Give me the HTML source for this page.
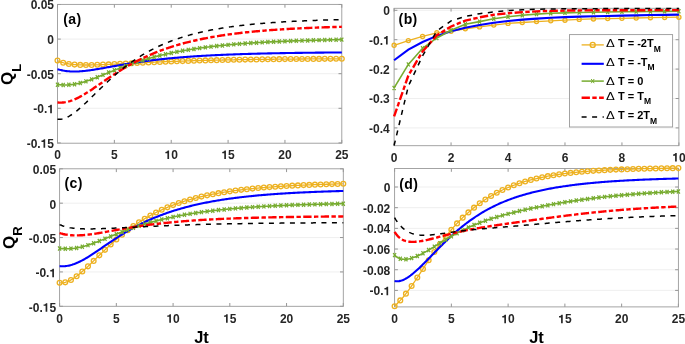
<!DOCTYPE html>
<html><head><meta charset="utf-8"><style>
html,body{margin:0;padding:0;background:#fff;}
svg{display:block;will-change:transform;filter:blur(0.3px);}
text{font-family:"Liberation Sans",sans-serif;font-weight:bold;}
.tl{font-size:12px;fill:#262626;}
.pl{font-size:14px;fill:#000;letter-spacing:0.4px;}
.al{font-size:17px;fill:#000;}
.xl{font-size:16.5px;fill:#000;}
.lg{font-size:11px;fill:#000;}
</style></head><body>
<svg width="685" height="344" viewBox="0 0 685 344">
<rect width="685" height="344" fill="#fff"/>
<rect x="57.5" y="4.4" width="284.3" height="138.79999999999998" fill="#fff"/>
<path d="M57.5,39.10H341.8M57.5,73.70H341.8M57.5,108.30H341.8" stroke="#ebebeb" stroke-width="0.8" fill="none"/>
<path d="M57.5,4.50h3.3M341.8,4.50h-3.3M57.5,39.10h3.3M341.8,39.10h-3.3M57.5,73.70h3.3M341.8,73.70h-3.3M57.5,108.30h3.3M341.8,108.30h-3.3M57.5,142.90h3.3M341.8,142.90h-3.3M57.50,143.2v-3.3M57.50,4.4v3.3M114.36,143.2v-3.3M114.36,4.4v3.3M171.22,143.2v-3.3M171.22,4.4v3.3M228.08,143.2v-3.3M228.08,4.4v3.3M284.94,143.2v-3.3M284.94,4.4v3.3M341.80,143.2v-3.3M341.80,4.4v3.3" stroke="#8a8a8a" stroke-width="0.9" fill="none"/>
<rect x="57.5" y="4.4" width="284.3" height="138.79999999999998" fill="none" stroke="#9a9a9a" stroke-width="0.9"/>
<text x="30.64" y="9.40" class="tl">0.05</text>
<text x="47.33" y="44.00" class="tl">0</text>
<text x="26.65" y="78.60" class="tl">-0.05</text>
<text x="33.32" y="113.20" class="tl">-0.</text><path d="M238,0L378,0L378,710L268,710C254,652 214,612 150,604L69,600L69,493L238,493Z" transform="translate(47.33,113.20) scale(0.0120,-0.0120)" fill="#262626"/>
<text x="26.65" y="147.80" class="tl">-0.</text><path d="M238,0L378,0L378,710L268,710C254,652 214,612 150,604L69,600L69,493L238,493Z" transform="translate(40.65,147.80) scale(0.0120,-0.0120)" fill="#262626"/><text x="47.33" y="147.80" class="tl">5</text>
<text x="54.16" y="159.10" class="tl">0</text>
<text x="111.02" y="159.10" class="tl">5</text>
<path d="M238,0L378,0L378,710L268,710C254,652 214,612 150,604L69,600L69,493L238,493Z" transform="translate(164.55,159.10) scale(0.0120,-0.0120)" fill="#262626"/><text x="171.22" y="159.10" class="tl">0</text>
<path d="M238,0L378,0L378,710L268,710C254,652 214,612 150,604L69,600L69,493L238,493Z" transform="translate(221.41,159.10) scale(0.0120,-0.0120)" fill="#262626"/><text x="228.08" y="159.10" class="tl">5</text>
<text x="278.27" y="159.10" class="tl">20</text>
<text x="335.13" y="159.10" class="tl">25</text>
<polyline points="57.50,60.62 58.64,61.14 59.77,61.60 60.91,62.02 62.05,62.40 63.19,62.74 64.32,63.04 65.46,63.31 66.60,63.55 67.73,63.76 68.87,63.95 70.01,64.12 71.15,64.27 72.28,64.40 73.42,64.51 74.56,64.61 75.70,64.70 76.83,64.77 77.97,64.83 79.11,64.88 80.24,64.92 81.38,64.96 82.52,64.98 83.66,65.00 84.79,65.01 85.93,65.01 87.07,65.01 88.20,65.01 89.34,65.00 90.48,64.98 91.62,64.96 92.75,64.94 93.89,64.92 95.03,64.89 96.16,64.86 97.30,64.82 98.44,64.79 99.58,64.75 100.71,64.71 101.85,64.67 102.99,64.62 104.13,64.58 105.26,64.53 106.40,64.48 107.54,64.43 108.67,64.38 109.81,64.33 110.95,64.28 112.09,64.23 113.22,64.18 114.36,64.12 115.50,64.07 116.63,64.01 117.77,63.96 118.91,63.90 120.05,63.85 121.18,63.79 122.32,63.74 123.46,63.68 124.59,63.62 125.73,63.57 126.87,63.51 128.01,63.45 129.14,63.40 130.28,63.34 131.42,63.28 132.56,63.23 133.69,63.17 134.83,63.11 135.97,63.06 137.10,63.00 138.24,62.95 139.38,62.89 140.52,62.84 141.65,62.78 142.79,62.73 143.93,62.67 145.06,62.62 146.20,62.57 147.34,62.51 148.48,62.46 149.61,62.41 150.75,62.35 151.89,62.30 153.02,62.25 154.16,62.20 155.30,62.15 156.44,62.10 157.57,62.05 158.71,62.00 159.85,61.95 160.99,61.91 162.12,61.86 163.26,61.81 164.40,61.76 165.53,61.72 166.67,61.67 167.81,61.63 168.95,61.58 170.08,61.54 171.22,61.49 172.36,61.45 173.49,61.41 174.63,61.37 175.77,61.32 176.91,61.28 178.04,61.24 179.18,61.20 180.32,61.16 181.45,61.12 182.59,61.08 183.73,61.04 184.87,61.01 186.00,60.97 187.14,60.93 188.28,60.90 189.42,60.86 190.55,60.82 191.69,60.79 192.83,60.75 193.96,60.72 195.10,60.69 196.24,60.65 197.38,60.62 198.51,60.59 199.65,60.56 200.79,60.52 201.92,60.49 203.06,60.46 204.20,60.43 205.34,60.40 206.47,60.37 207.61,60.34 208.75,60.32 209.88,60.29 211.02,60.26 212.16,60.23 213.30,60.21 214.43,60.18 215.57,60.15 216.71,60.13 217.85,60.10 218.98,60.08 220.12,60.05 221.26,60.03 222.39,60.00 223.53,59.98 224.67,59.96 225.81,59.93 226.94,59.91 228.08,59.89 229.22,59.87 230.35,59.85 231.49,59.82 232.63,59.80 233.77,59.78 234.90,59.76 236.04,59.74 237.18,59.72 238.31,59.70 239.45,59.68 240.59,59.67 241.73,59.65 242.86,59.63 244.00,59.61 245.14,59.59 246.28,59.58 247.41,59.56 248.55,59.54 249.69,59.53 250.82,59.51 251.96,59.49 253.10,59.48 254.24,59.46 255.37,59.45 256.51,59.43 257.65,59.42 258.78,59.40 259.92,59.39 261.06,59.37 262.20,59.36 263.33,59.35 264.47,59.33 265.61,59.32 266.74,59.31 267.88,59.29 269.02,59.28 270.16,59.27 271.29,59.26 272.43,59.24 273.57,59.23 274.71,59.22 275.84,59.21 276.98,59.20 278.12,59.19 279.25,59.17 280.39,59.16 281.53,59.15 282.67,59.14 283.80,59.13 284.94,59.12 286.08,59.11 287.21,59.10 288.35,59.09 289.49,59.08 290.63,59.07 291.76,59.07 292.90,59.06 294.04,59.05 295.17,59.04 296.31,59.03 297.45,59.02 298.59,59.01 299.72,59.01 300.86,59.00 302.00,58.99 303.14,58.98 304.27,58.97 305.41,58.97 306.55,58.96 307.68,58.95 308.82,58.94 309.96,58.94 311.10,58.93 312.23,58.92 313.37,58.92 314.51,58.91 315.64,58.90 316.78,58.90 317.92,58.89 319.06,58.89 320.19,58.88 321.33,58.87 322.47,58.87 323.60,58.86 324.74,58.86 325.88,58.85 327.02,58.84 328.15,58.84 329.29,58.83 330.43,58.83 331.57,58.82 332.70,58.82 333.84,58.81 334.98,58.81 336.11,58.80 337.25,58.80 338.39,58.79 339.53,58.79 340.66,58.79 341.80,58.78" fill="none" stroke="#EDB120" stroke-width="1.3"/>
<circle cx="57.50" cy="60.62" r="2.4" fill="none" stroke="#EDB120" stroke-width="1.3"/><circle cx="63.19" cy="62.74" r="2.4" fill="none" stroke="#EDB120" stroke-width="1.3"/><circle cx="68.87" cy="63.95" r="2.4" fill="none" stroke="#EDB120" stroke-width="1.3"/><circle cx="74.56" cy="64.61" r="2.4" fill="none" stroke="#EDB120" stroke-width="1.3"/><circle cx="80.24" cy="64.92" r="2.4" fill="none" stroke="#EDB120" stroke-width="1.3"/><circle cx="85.93" cy="65.01" r="2.4" fill="none" stroke="#EDB120" stroke-width="1.3"/><circle cx="91.62" cy="64.96" r="2.4" fill="none" stroke="#EDB120" stroke-width="1.3"/><circle cx="97.30" cy="64.82" r="2.4" fill="none" stroke="#EDB120" stroke-width="1.3"/><circle cx="102.99" cy="64.62" r="2.4" fill="none" stroke="#EDB120" stroke-width="1.3"/><circle cx="108.67" cy="64.38" r="2.4" fill="none" stroke="#EDB120" stroke-width="1.3"/><circle cx="114.36" cy="64.12" r="2.4" fill="none" stroke="#EDB120" stroke-width="1.3"/><circle cx="120.05" cy="63.85" r="2.4" fill="none" stroke="#EDB120" stroke-width="1.3"/><circle cx="125.73" cy="63.57" r="2.4" fill="none" stroke="#EDB120" stroke-width="1.3"/><circle cx="131.42" cy="63.28" r="2.4" fill="none" stroke="#EDB120" stroke-width="1.3"/><circle cx="137.10" cy="63.00" r="2.4" fill="none" stroke="#EDB120" stroke-width="1.3"/><circle cx="142.79" cy="62.73" r="2.4" fill="none" stroke="#EDB120" stroke-width="1.3"/><circle cx="148.48" cy="62.46" r="2.4" fill="none" stroke="#EDB120" stroke-width="1.3"/><circle cx="154.16" cy="62.20" r="2.4" fill="none" stroke="#EDB120" stroke-width="1.3"/><circle cx="159.85" cy="61.95" r="2.4" fill="none" stroke="#EDB120" stroke-width="1.3"/><circle cx="165.53" cy="61.72" r="2.4" fill="none" stroke="#EDB120" stroke-width="1.3"/><circle cx="171.22" cy="61.49" r="2.4" fill="none" stroke="#EDB120" stroke-width="1.3"/><circle cx="176.91" cy="61.28" r="2.4" fill="none" stroke="#EDB120" stroke-width="1.3"/><circle cx="182.59" cy="61.08" r="2.4" fill="none" stroke="#EDB120" stroke-width="1.3"/><circle cx="188.28" cy="60.90" r="2.4" fill="none" stroke="#EDB120" stroke-width="1.3"/><circle cx="193.96" cy="60.72" r="2.4" fill="none" stroke="#EDB120" stroke-width="1.3"/><circle cx="199.65" cy="60.56" r="2.4" fill="none" stroke="#EDB120" stroke-width="1.3"/><circle cx="205.34" cy="60.40" r="2.4" fill="none" stroke="#EDB120" stroke-width="1.3"/><circle cx="211.02" cy="60.26" r="2.4" fill="none" stroke="#EDB120" stroke-width="1.3"/><circle cx="216.71" cy="60.13" r="2.4" fill="none" stroke="#EDB120" stroke-width="1.3"/><circle cx="222.39" cy="60.00" r="2.4" fill="none" stroke="#EDB120" stroke-width="1.3"/><circle cx="228.08" cy="59.89" r="2.4" fill="none" stroke="#EDB120" stroke-width="1.3"/><circle cx="233.77" cy="59.78" r="2.4" fill="none" stroke="#EDB120" stroke-width="1.3"/><circle cx="239.45" cy="59.68" r="2.4" fill="none" stroke="#EDB120" stroke-width="1.3"/><circle cx="245.14" cy="59.59" r="2.4" fill="none" stroke="#EDB120" stroke-width="1.3"/><circle cx="250.82" cy="59.51" r="2.4" fill="none" stroke="#EDB120" stroke-width="1.3"/><circle cx="256.51" cy="59.43" r="2.4" fill="none" stroke="#EDB120" stroke-width="1.3"/><circle cx="262.20" cy="59.36" r="2.4" fill="none" stroke="#EDB120" stroke-width="1.3"/><circle cx="267.88" cy="59.29" r="2.4" fill="none" stroke="#EDB120" stroke-width="1.3"/><circle cx="273.57" cy="59.23" r="2.4" fill="none" stroke="#EDB120" stroke-width="1.3"/><circle cx="279.25" cy="59.17" r="2.4" fill="none" stroke="#EDB120" stroke-width="1.3"/><circle cx="284.94" cy="59.12" r="2.4" fill="none" stroke="#EDB120" stroke-width="1.3"/><circle cx="290.63" cy="59.07" r="2.4" fill="none" stroke="#EDB120" stroke-width="1.3"/><circle cx="296.31" cy="59.03" r="2.4" fill="none" stroke="#EDB120" stroke-width="1.3"/><circle cx="302.00" cy="58.99" r="2.4" fill="none" stroke="#EDB120" stroke-width="1.3"/><circle cx="307.68" cy="58.95" r="2.4" fill="none" stroke="#EDB120" stroke-width="1.3"/><circle cx="313.37" cy="58.92" r="2.4" fill="none" stroke="#EDB120" stroke-width="1.3"/><circle cx="319.06" cy="58.89" r="2.4" fill="none" stroke="#EDB120" stroke-width="1.3"/><circle cx="324.74" cy="58.86" r="2.4" fill="none" stroke="#EDB120" stroke-width="1.3"/><circle cx="330.43" cy="58.83" r="2.4" fill="none" stroke="#EDB120" stroke-width="1.3"/><circle cx="336.11" cy="58.80" r="2.4" fill="none" stroke="#EDB120" stroke-width="1.3"/><circle cx="341.80" cy="58.78" r="2.4" fill="none" stroke="#EDB120" stroke-width="1.3"/>
<polyline points="57.50,69.20 58.64,69.53 59.77,69.83 60.91,70.10 62.05,70.35 63.19,70.58 64.32,70.77 65.46,70.95 66.60,71.09 67.73,71.22 68.87,71.32 70.01,71.41 71.15,71.47 72.28,71.51 73.42,71.53 74.56,71.54 75.70,71.52 76.83,71.50 77.97,71.45 79.11,71.40 80.24,71.32 81.38,71.24 82.52,71.14 83.66,71.04 84.79,70.92 85.93,70.79 87.07,70.66 88.20,70.52 89.34,70.36 90.48,70.21 91.62,70.04 92.75,69.87 93.89,69.70 95.03,69.52 96.16,69.33 97.30,69.14 98.44,68.95 99.58,68.76 100.71,68.56 101.85,68.36 102.99,68.16 104.13,67.96 105.26,67.75 106.40,67.55 107.54,67.34 108.67,67.14 109.81,66.93 110.95,66.72 112.09,66.52 113.22,66.31 114.36,66.11 115.50,65.90 116.63,65.70 117.77,65.50 118.91,65.30 120.05,65.10 121.18,64.90 122.32,64.70 123.46,64.51 124.59,64.32 125.73,64.12 126.87,63.93 128.01,63.75 129.14,63.56 130.28,63.38 131.42,63.20 132.56,63.02 133.69,62.84 134.83,62.66 135.97,62.49 137.10,62.32 138.24,62.15 139.38,61.98 140.52,61.82 141.65,61.66 142.79,61.50 143.93,61.34 145.06,61.19 146.20,61.03 147.34,60.88 148.48,60.73 149.61,60.59 150.75,60.44 151.89,60.30 153.02,60.16 154.16,60.02 155.30,59.89 156.44,59.75 157.57,59.62 158.71,59.49 159.85,59.37 160.99,59.24 162.12,59.12 163.26,59.00 164.40,58.88 165.53,58.76 166.67,58.64 167.81,58.53 168.95,58.42 170.08,58.31 171.22,58.20 172.36,58.09 173.49,57.99 174.63,57.89 175.77,57.79 176.91,57.69 178.04,57.59 179.18,57.49 180.32,57.40 181.45,57.31 182.59,57.22 183.73,57.13 184.87,57.04 186.00,56.95 187.14,56.87 188.28,56.78 189.42,56.70 190.55,56.62 191.69,56.54 192.83,56.46 193.96,56.38 195.10,56.31 196.24,56.23 197.38,56.16 198.51,56.09 199.65,56.02 200.79,55.95 201.92,55.88 203.06,55.82 204.20,55.75 205.34,55.68 206.47,55.62 207.61,55.56 208.75,55.50 209.88,55.44 211.02,55.38 212.16,55.32 213.30,55.26 214.43,55.21 215.57,55.15 216.71,55.10 217.85,55.04 218.98,54.99 220.12,54.94 221.26,54.89 222.39,54.84 223.53,54.79 224.67,54.74 225.81,54.69 226.94,54.65 228.08,54.60 229.22,54.56 230.35,54.51 231.49,54.47 232.63,54.43 233.77,54.38 234.90,54.34 236.04,54.30 237.18,54.26 238.31,54.22 239.45,54.19 240.59,54.15 241.73,54.11 242.86,54.07 244.00,54.04 245.14,54.00 246.28,53.97 247.41,53.93 248.55,53.90 249.69,53.87 250.82,53.83 251.96,53.80 253.10,53.77 254.24,53.74 255.37,53.71 256.51,53.68 257.65,53.65 258.78,53.62 259.92,53.59 261.06,53.57 262.20,53.54 263.33,53.51 264.47,53.49 265.61,53.46 266.74,53.44 267.88,53.41 269.02,53.39 270.16,53.36 271.29,53.34 272.43,53.31 273.57,53.29 274.71,53.27 275.84,53.25 276.98,53.22 278.12,53.20 279.25,53.18 280.39,53.16 281.53,53.14 282.67,53.12 283.80,53.10 284.94,53.08 286.08,53.06 287.21,53.04 288.35,53.02 289.49,53.01 290.63,52.99 291.76,52.97 292.90,52.95 294.04,52.94 295.17,52.92 296.31,52.90 297.45,52.89 298.59,52.87 299.72,52.86 300.86,52.84 302.00,52.83 303.14,52.81 304.27,52.80 305.41,52.78 306.55,52.77 307.68,52.75 308.82,52.74 309.96,52.73 311.10,52.71 312.23,52.70 313.37,52.69 314.51,52.68 315.64,52.66 316.78,52.65 317.92,52.64 319.06,52.63 320.19,52.62 321.33,52.61 322.47,52.59 323.60,52.58 324.74,52.57 325.88,52.56 327.02,52.55 328.15,52.54 329.29,52.53 330.43,52.52 331.57,52.51 332.70,52.50 333.84,52.49 334.98,52.48 336.11,52.48 337.25,52.47 338.39,52.46 339.53,52.45 340.66,52.44 341.80,52.43" fill="none" stroke="#0000FF" stroke-width="2.1"/>
<polyline points="57.50,84.70 58.64,84.76 59.77,84.81 60.91,84.87 62.05,84.91 63.19,84.94 64.32,84.96 65.46,84.96 66.60,84.94 67.73,84.90 68.87,84.83 70.01,84.75 71.15,84.64 72.28,84.51 73.42,84.35 74.56,84.18 75.70,83.98 76.83,83.76 77.97,83.52 79.11,83.26 80.24,82.98 81.38,82.68 82.52,82.37 83.66,82.04 84.79,81.69 85.93,81.34 87.07,80.96 88.20,80.58 89.34,80.19 90.48,79.78 91.62,79.37 92.75,78.95 93.89,78.52 95.03,78.08 96.16,77.64 97.30,77.19 98.44,76.74 99.58,76.28 100.71,75.82 101.85,75.36 102.99,74.90 104.13,74.44 105.26,73.97 106.40,73.51 107.54,73.04 108.67,72.58 109.81,72.12 110.95,71.66 112.09,71.20 113.22,70.74 114.36,70.28 115.50,69.83 116.63,69.38 117.77,68.94 118.91,68.49 120.05,68.05 121.18,67.62 122.32,67.19 123.46,66.76 124.59,66.34 125.73,65.92 126.87,65.50 128.01,65.09 129.14,64.69 130.28,64.29 131.42,63.89 132.56,63.50 133.69,63.11 134.83,62.73 135.97,62.36 137.10,61.98 138.24,61.62 139.38,61.26 140.52,60.90 141.65,60.55 142.79,60.20 143.93,59.86 145.06,59.52 146.20,59.19 147.34,58.86 148.48,58.54 149.61,58.22 150.75,57.90 151.89,57.59 153.02,57.29 154.16,56.99 155.30,56.69 156.44,56.40 157.57,56.11 158.71,55.83 159.85,55.55 160.99,55.28 162.12,55.01 163.26,54.75 164.40,54.48 165.53,54.23 166.67,53.97 167.81,53.72 168.95,53.48 170.08,53.24 171.22,53.00 172.36,52.76 173.49,52.53 174.63,52.31 175.77,52.08 176.91,51.86 178.04,51.65 179.18,51.43 180.32,51.22 181.45,51.02 182.59,50.81 183.73,50.61 184.87,50.42 186.00,50.22 187.14,50.03 188.28,49.85 189.42,49.66 190.55,49.48 191.69,49.30 192.83,49.13 193.96,48.95 195.10,48.78 196.24,48.61 197.38,48.45 198.51,48.29 199.65,48.13 200.79,47.97 201.92,47.82 203.06,47.66 204.20,47.51 205.34,47.37 206.47,47.22 207.61,47.08 208.75,46.94 209.88,46.80 211.02,46.66 212.16,46.53 213.30,46.40 214.43,46.27 215.57,46.14 216.71,46.02 217.85,45.89 218.98,45.77 220.12,45.65 221.26,45.53 222.39,45.42 223.53,45.30 224.67,45.19 225.81,45.08 226.94,44.97 228.08,44.87 229.22,44.76 230.35,44.66 231.49,44.56 232.63,44.46 233.77,44.36 234.90,44.26 236.04,44.17 237.18,44.07 238.31,43.98 239.45,43.89 240.59,43.80 241.73,43.71 242.86,43.62 244.00,43.54 245.14,43.46 246.28,43.37 247.41,43.29 248.55,43.21 249.69,43.13 250.82,43.06 251.96,42.98 253.10,42.91 254.24,42.83 255.37,42.76 256.51,42.69 257.65,42.62 258.78,42.55 259.92,42.48 261.06,42.41 262.20,42.35 263.33,42.28 264.47,42.22 265.61,42.16 266.74,42.10 267.88,42.04 269.02,41.98 270.16,41.92 271.29,41.86 272.43,41.80 273.57,41.75 274.71,41.69 275.84,41.64 276.98,41.59 278.12,41.53 279.25,41.48 280.39,41.43 281.53,41.38 282.67,41.33 283.80,41.28 284.94,41.24 286.08,41.19 287.21,41.14 288.35,41.10 289.49,41.05 290.63,41.01 291.76,40.97 292.90,40.92 294.04,40.88 295.17,40.84 296.31,40.80 297.45,40.76 298.59,40.72 299.72,40.68 300.86,40.65 302.00,40.61 303.14,40.57 304.27,40.54 305.41,40.50 306.55,40.47 307.68,40.43 308.82,40.40 309.96,40.37 311.10,40.33 312.23,40.30 313.37,40.27 314.51,40.24 315.64,40.21 316.78,40.18 317.92,40.15 319.06,40.12 320.19,40.09 321.33,40.06 322.47,40.04 323.60,40.01 324.74,39.98 325.88,39.96 327.02,39.93 328.15,39.90 329.29,39.88 330.43,39.85 331.57,39.83 332.70,39.81 333.84,39.78 334.98,39.76 336.11,39.74 337.25,39.71 338.39,39.69 339.53,39.67 340.66,39.65 341.80,39.63" fill="none" stroke="#77AC30" stroke-width="1.6"/>
<path d="M56.00,82.60l3,4.2M56.00,86.80l3,-4.2M61.69,82.84l3,4.2M61.69,87.04l3,-4.2M67.37,82.73l3,4.2M67.37,86.93l3,-4.2M73.06,82.08l3,4.2M73.06,86.28l3,-4.2M78.74,80.88l3,4.2M78.74,85.08l3,-4.2M84.43,79.24l3,4.2M84.43,83.44l3,-4.2M90.12,77.27l3,4.2M90.12,81.47l3,-4.2M95.80,75.09l3,4.2M95.80,79.29l3,-4.2M101.49,72.80l3,4.2M101.49,77.00l3,-4.2M107.17,70.48l3,4.2M107.17,74.68l3,-4.2M112.86,68.18l3,4.2M112.86,72.38l3,-4.2M118.55,65.95l3,4.2M118.55,70.15l3,-4.2M124.23,63.82l3,4.2M124.23,68.02l3,-4.2M129.92,61.79l3,4.2M129.92,65.99l3,-4.2M135.60,59.88l3,4.2M135.60,64.08l3,-4.2M141.29,58.10l3,4.2M141.29,62.30l3,-4.2M146.98,56.44l3,4.2M146.98,60.64l3,-4.2M152.66,54.89l3,4.2M152.66,59.09l3,-4.2M158.35,53.45l3,4.2M158.35,57.65l3,-4.2M164.03,52.13l3,4.2M164.03,56.33l3,-4.2M169.72,50.90l3,4.2M169.72,55.10l3,-4.2M175.41,49.76l3,4.2M175.41,53.96l3,-4.2M181.09,48.71l3,4.2M181.09,52.91l3,-4.2M186.78,47.75l3,4.2M186.78,51.95l3,-4.2M192.46,46.85l3,4.2M192.46,51.05l3,-4.2M198.15,46.03l3,4.2M198.15,50.23l3,-4.2M203.84,45.27l3,4.2M203.84,49.47l3,-4.2M209.52,44.56l3,4.2M209.52,48.76l3,-4.2M215.21,43.92l3,4.2M215.21,48.12l3,-4.2M220.89,43.32l3,4.2M220.89,47.52l3,-4.2M226.58,42.77l3,4.2M226.58,46.97l3,-4.2M232.27,42.26l3,4.2M232.27,46.46l3,-4.2M237.95,41.79l3,4.2M237.95,45.99l3,-4.2M243.64,41.36l3,4.2M243.64,45.56l3,-4.2M249.32,40.96l3,4.2M249.32,45.16l3,-4.2M255.01,40.59l3,4.2M255.01,44.79l3,-4.2M260.70,40.25l3,4.2M260.70,44.45l3,-4.2M266.38,39.94l3,4.2M266.38,44.14l3,-4.2M272.07,39.65l3,4.2M272.07,43.85l3,-4.2M277.75,39.38l3,4.2M277.75,43.58l3,-4.2M283.44,39.14l3,4.2M283.44,43.34l3,-4.2M289.13,38.91l3,4.2M289.13,43.11l3,-4.2M294.81,38.70l3,4.2M294.81,42.90l3,-4.2M300.50,38.51l3,4.2M300.50,42.71l3,-4.2M306.18,38.33l3,4.2M306.18,42.53l3,-4.2M311.87,38.17l3,4.2M311.87,42.37l3,-4.2M317.56,38.02l3,4.2M317.56,42.22l3,-4.2M323.24,37.88l3,4.2M323.24,42.08l3,-4.2M328.93,37.75l3,4.2M328.93,41.95l3,-4.2M334.61,37.64l3,4.2M334.61,41.84l3,-4.2M340.30,37.53l3,4.2M340.30,41.73l3,-4.2" stroke="#77AC30" stroke-width="1.25" fill="none"/>
<polyline points="57.50,102.49 58.64,102.56 59.77,102.59 60.91,102.59 62.05,102.54 63.19,102.46 64.32,102.33 65.46,102.15 66.60,101.94 67.73,101.69 68.87,101.40 70.01,101.07 71.15,100.70 72.28,100.30 73.42,99.86 74.56,99.39 75.70,98.89 76.83,98.36 77.97,97.81 79.11,97.23 80.24,96.63 81.38,96.00 82.52,95.35 83.66,94.69 84.79,94.01 85.93,93.31 87.07,92.60 88.20,91.88 89.34,91.14 90.48,90.40 91.62,89.64 92.75,88.88 93.89,88.12 95.03,87.34 96.16,86.57 97.30,85.79 98.44,85.01 99.58,84.22 100.71,83.44 101.85,82.66 102.99,81.88 104.13,81.10 105.26,80.32 106.40,79.54 107.54,78.77 108.67,78.00 109.81,77.24 110.95,76.48 112.09,75.73 113.22,74.98 114.36,74.24 115.50,73.50 116.63,72.77 117.77,72.05 118.91,71.34 120.05,70.63 121.18,69.93 122.32,69.24 123.46,68.55 124.59,67.88 125.73,67.21 126.87,66.55 128.01,65.89 129.14,65.25 130.28,64.61 131.42,63.98 132.56,63.36 133.69,62.75 134.83,62.15 135.97,61.55 137.10,60.97 138.24,60.39 139.38,59.82 140.52,59.26 141.65,58.70 142.79,58.16 143.93,57.62 145.06,57.09 146.20,56.57 147.34,56.05 148.48,55.55 149.61,55.05 150.75,54.56 151.89,54.07 153.02,53.60 154.16,53.13 155.30,52.67 156.44,52.22 157.57,51.77 158.71,51.33 159.85,50.90 160.99,50.47 162.12,50.05 163.26,49.64 164.40,49.23 165.53,48.84 166.67,48.44 167.81,48.06 168.95,47.68 170.08,47.30 171.22,46.94 172.36,46.57 173.49,46.22 174.63,45.87 175.77,45.52 176.91,45.18 178.04,44.85 179.18,44.52 180.32,44.20 181.45,43.88 182.59,43.57 183.73,43.27 184.87,42.96 186.00,42.67 187.14,42.38 188.28,42.09 189.42,41.81 190.55,41.53 191.69,41.26 192.83,40.99 193.96,40.72 195.10,40.46 196.24,40.21 197.38,39.96 198.51,39.71 199.65,39.47 200.79,39.23 201.92,38.99 203.06,38.76 204.20,38.53 205.34,38.31 206.47,38.09 207.61,37.87 208.75,37.66 209.88,37.45 211.02,37.25 212.16,37.05 213.30,36.85 214.43,36.65 215.57,36.46 216.71,36.27 217.85,36.08 218.98,35.90 220.12,35.72 221.26,35.54 222.39,35.37 223.53,35.20 224.67,35.03 225.81,34.86 226.94,34.70 228.08,34.54 229.22,34.38 230.35,34.23 231.49,34.08 232.63,33.93 233.77,33.78 234.90,33.63 236.04,33.49 237.18,33.35 238.31,33.21 239.45,33.08 240.59,32.95 241.73,32.81 242.86,32.69 244.00,32.56 245.14,32.43 246.28,32.31 247.41,32.19 248.55,32.07 249.69,31.96 250.82,31.84 251.96,31.73 253.10,31.62 254.24,31.51 255.37,31.40 256.51,31.30 257.65,31.19 258.78,31.09 259.92,30.99 261.06,30.89 262.20,30.79 263.33,30.70 264.47,30.60 265.61,30.51 266.74,30.42 267.88,30.33 269.02,30.24 270.16,30.16 271.29,30.07 272.43,29.99 273.57,29.91 274.71,29.83 275.84,29.75 276.98,29.67 278.12,29.59 279.25,29.52 280.39,29.44 281.53,29.37 282.67,29.30 283.80,29.22 284.94,29.16 286.08,29.09 287.21,29.02 288.35,28.95 289.49,28.89 290.63,28.82 291.76,28.76 292.90,28.70 294.04,28.64 295.17,28.58 296.31,28.52 297.45,28.46 298.59,28.40 299.72,28.35 300.86,28.29 302.00,28.24 303.14,28.19 304.27,28.13 305.41,28.08 306.55,28.03 307.68,27.98 308.82,27.93 309.96,27.88 311.10,27.84 312.23,27.79 313.37,27.74 314.51,27.70 315.64,27.65 316.78,27.61 317.92,27.57 319.06,27.52 320.19,27.48 321.33,27.44 322.47,27.40 323.60,27.36 324.74,27.32 325.88,27.29 327.02,27.25 328.15,27.21 329.29,27.17 330.43,27.14 331.57,27.10 332.70,27.07 333.84,27.03 334.98,27.00 336.11,26.97 337.25,26.94 338.39,26.90 339.53,26.87 340.66,26.84 341.80,26.81" fill="none" stroke="#FF0000" stroke-width="2.4" stroke-dasharray="8.3,2.4,4.4,2.4"/>
<polyline points="57.50,119.30 58.64,119.37 59.77,119.36 60.91,119.25 62.05,119.06 63.19,118.78 64.32,118.43 65.46,118.01 66.60,117.53 67.73,116.98 68.87,116.37 70.01,115.71 71.15,115.00 72.28,114.25 73.42,113.45 74.56,112.61 75.70,111.74 76.83,110.83 77.97,109.89 79.11,108.93 80.24,107.94 81.38,106.92 82.52,105.89 83.66,104.84 84.79,103.78 85.93,102.70 87.07,101.62 88.20,100.52 89.34,99.42 90.48,98.30 91.62,97.19 92.75,96.07 93.89,94.95 95.03,93.83 96.16,92.71 97.30,91.60 98.44,90.48 99.58,89.37 100.71,88.27 101.85,87.17 102.99,86.08 104.13,84.99 105.26,83.91 106.40,82.84 107.54,81.78 108.67,80.73 109.81,79.69 110.95,78.66 112.09,77.64 113.22,76.63 114.36,75.63 115.50,74.65 116.63,73.67 117.77,72.71 118.91,71.76 120.05,70.82 121.18,69.90 122.32,68.98 123.46,68.08 124.59,67.20 125.73,66.32 126.87,65.46 128.01,64.61 129.14,63.78 130.28,62.95 131.42,62.14 132.56,61.34 133.69,60.56 134.83,59.79 135.97,59.03 137.10,58.28 138.24,57.55 139.38,56.82 140.52,56.11 141.65,55.42 142.79,54.73 143.93,54.06 145.06,53.39 146.20,52.74 147.34,52.10 148.48,51.47 149.61,50.86 150.75,50.25 151.89,49.65 153.02,49.07 154.16,48.50 155.30,47.93 156.44,47.38 157.57,46.83 158.71,46.30 159.85,45.78 160.99,45.26 162.12,44.76 163.26,44.26 164.40,43.78 165.53,43.30 166.67,42.83 167.81,42.37 168.95,41.92 170.08,41.48 171.22,41.05 172.36,40.62 173.49,40.20 174.63,39.79 175.77,39.39 176.91,39.00 178.04,38.61 179.18,38.23 180.32,37.86 181.45,37.49 182.59,37.13 183.73,36.78 184.87,36.44 186.00,36.10 187.14,35.77 188.28,35.44 189.42,35.12 190.55,34.81 191.69,34.50 192.83,34.20 193.96,33.90 195.10,33.61 196.24,33.33 197.38,33.05 198.51,32.77 199.65,32.50 200.79,32.24 201.92,31.98 203.06,31.73 204.20,31.48 205.34,31.23 206.47,30.99 207.61,30.76 208.75,30.53 209.88,30.30 211.02,30.08 212.16,29.86 213.30,29.65 214.43,29.44 215.57,29.23 216.71,29.03 217.85,28.83 218.98,28.64 220.12,28.45 221.26,28.26 222.39,28.08 223.53,27.89 224.67,27.72 225.81,27.54 226.94,27.37 228.08,27.21 229.22,27.04 230.35,26.88 231.49,26.72 232.63,26.57 233.77,26.42 234.90,26.27 236.04,26.12 237.18,25.98 238.31,25.83 239.45,25.70 240.59,25.56 241.73,25.43 242.86,25.29 244.00,25.17 245.14,25.04 246.28,24.91 247.41,24.79 248.55,24.67 249.69,24.56 250.82,24.44 251.96,24.33 253.10,24.22 254.24,24.11 255.37,24.00 256.51,23.90 257.65,23.79 258.78,23.69 259.92,23.59 261.06,23.49 262.20,23.40 263.33,23.30 264.47,23.21 265.61,23.12 266.74,23.03 267.88,22.94 269.02,22.86 270.16,22.77 271.29,22.69 272.43,22.61 273.57,22.53 274.71,22.45 275.84,22.37 276.98,22.30 278.12,22.22 279.25,22.15 280.39,22.08 281.53,22.01 282.67,21.94 283.80,21.87 284.94,21.80 286.08,21.74 287.21,21.67 288.35,21.61 289.49,21.55 290.63,21.48 291.76,21.42 292.90,21.36 294.04,21.31 295.17,21.25 296.31,21.19 297.45,21.14 298.59,21.08 299.72,21.03 300.86,20.98 302.00,20.93 303.14,20.88 304.27,20.83 305.41,20.78 306.55,20.73 307.68,20.68 308.82,20.64 309.96,20.59 311.10,20.55 312.23,20.51 313.37,20.46 314.51,20.42 315.64,20.38 316.78,20.34 317.92,20.30 319.06,20.26 320.19,20.22 321.33,20.18 322.47,20.14 323.60,20.11 324.74,20.07 325.88,20.04 327.02,20.00 328.15,19.97 329.29,19.93 330.43,19.90 331.57,19.87 332.70,19.84 333.84,19.80 334.98,19.77 336.11,19.74 337.25,19.71 338.39,19.68 339.53,19.65 340.66,19.63 341.80,19.60" fill="none" stroke="#000000" stroke-width="1.5" stroke-dasharray="5,5.5"/>
<rect x="59.6" y="168.8" width="283.7" height="137.5" fill="#fff"/>
<path d="M59.6,203.18H343.3M59.6,237.55H343.3M59.6,271.93H343.3" stroke="#ebebeb" stroke-width="0.8" fill="none"/>
<path d="M59.6,168.80h3.3M343.3,168.80h-3.3M59.6,203.18h3.3M343.3,203.18h-3.3M59.6,237.55h3.3M343.3,237.55h-3.3M59.6,271.93h3.3M343.3,271.93h-3.3M59.6,306.30h3.3M343.3,306.30h-3.3M59.60,306.3v-3.3M59.60,168.8v3.3M116.34,306.3v-3.3M116.34,168.8v3.3M173.08,306.3v-3.3M173.08,168.8v3.3M229.82,306.3v-3.3M229.82,168.8v3.3M286.56,306.3v-3.3M286.56,168.8v3.3M343.30,306.3v-3.3M343.30,168.8v3.3" stroke="#8a8a8a" stroke-width="0.9" fill="none"/>
<rect x="59.6" y="168.8" width="283.7" height="137.5" fill="none" stroke="#9a9a9a" stroke-width="0.9"/>
<text x="32.74" y="174.20" class="tl">0.05</text>
<text x="49.43" y="208.58" class="tl">0</text>
<text x="28.75" y="242.95" class="tl">-0.05</text>
<text x="35.42" y="277.32" class="tl">-0.</text><path d="M238,0L378,0L378,710L268,710C254,652 214,612 150,604L69,600L69,493L238,493Z" transform="translate(49.43,277.32) scale(0.0120,-0.0120)" fill="#262626"/>
<text x="28.75" y="311.70" class="tl">-0.</text><path d="M238,0L378,0L378,710L268,710C254,652 214,612 150,604L69,600L69,493L238,493Z" transform="translate(42.75,311.70) scale(0.0120,-0.0120)" fill="#262626"/><text x="49.43" y="311.70" class="tl">5</text>
<text x="56.26" y="322.70" class="tl">0</text>
<text x="113.00" y="322.70" class="tl">5</text>
<path d="M238,0L378,0L378,710L268,710C254,652 214,612 150,604L69,600L69,493L238,493Z" transform="translate(166.41,322.70) scale(0.0120,-0.0120)" fill="#262626"/><text x="173.08" y="322.70" class="tl">0</text>
<path d="M238,0L378,0L378,710L268,710C254,652 214,612 150,604L69,600L69,493L238,493Z" transform="translate(223.15,322.70) scale(0.0120,-0.0120)" fill="#262626"/><text x="229.82" y="322.70" class="tl">5</text>
<text x="279.89" y="322.70" class="tl">20</text>
<text x="336.63" y="322.70" class="tl">25</text>
<polyline points="59.60,282.85 60.73,282.93 61.87,282.91 63.00,282.80 64.14,282.61 65.27,282.34 66.41,281.99 67.54,281.58 68.68,281.09 69.81,280.55 70.95,279.95 72.08,279.29 73.22,278.59 74.35,277.83 75.49,277.04 76.62,276.21 77.76,275.34 78.89,274.44 80.03,273.51 81.16,272.55 82.30,271.56 83.43,270.56 84.57,269.53 85.70,268.49 86.84,267.44 87.97,266.37 89.10,265.29 90.24,264.20 91.37,263.10 92.51,261.99 93.64,260.89 94.78,259.78 95.91,258.66 97.05,257.55 98.18,256.44 99.32,255.33 100.45,254.22 101.59,253.12 102.72,252.02 103.86,250.93 104.99,249.85 106.13,248.77 107.26,247.70 108.40,246.63 109.53,245.58 110.67,244.54 111.80,243.50 112.94,242.48 114.07,241.46 115.21,240.46 116.34,239.47 117.47,238.49 118.61,237.52 119.74,236.56 120.88,235.62 122.01,234.69 123.15,233.77 124.28,232.86 125.42,231.97 126.55,231.09 127.69,230.22 128.82,229.36 129.96,228.52 131.09,227.69 132.23,226.87 133.36,226.07 134.50,225.28 135.63,224.50 136.77,223.73 137.90,222.97 139.04,222.23 140.17,221.50 141.31,220.78 142.44,220.08 143.58,219.39 144.71,218.70 145.84,218.03 146.98,217.37 148.11,216.73 149.25,216.09 150.38,215.47 151.52,214.85 152.65,214.25 153.79,213.66 154.92,213.08 156.06,212.51 157.19,211.95 158.33,211.40 159.46,210.86 160.60,210.33 161.73,209.81 162.87,209.30 164.00,208.80 165.14,208.31 166.27,207.82 167.41,207.35 168.54,206.88 169.68,206.43 170.81,205.98 171.95,205.54 173.08,205.11 174.21,204.69 175.35,204.27 176.48,203.86 177.62,203.46 178.75,203.07 179.89,202.69 181.02,202.31 182.16,201.94 183.29,201.58 184.43,201.22 185.56,200.87 186.70,200.53 187.83,200.19 188.97,199.86 190.10,199.54 191.24,199.22 192.37,198.91 193.51,198.60 194.64,198.31 195.78,198.01 196.91,197.72 198.05,197.44 199.18,197.16 200.32,196.89 201.45,196.62 202.58,196.36 203.72,196.10 204.85,195.85 205.99,195.60 207.12,195.36 208.26,195.12 209.39,194.89 210.53,194.66 211.66,194.43 212.80,194.21 213.93,194.00 215.07,193.78 216.20,193.58 217.34,193.37 218.47,193.17 219.61,192.97 220.74,192.78 221.88,192.59 223.01,192.40 224.15,192.22 225.28,192.04 226.42,191.87 227.55,191.69 228.69,191.53 229.82,191.36 230.95,191.20 232.09,191.04 233.22,190.88 234.36,190.72 235.49,190.57 236.63,190.42 237.76,190.28 238.90,190.14 240.03,190.00 241.17,189.86 242.30,189.72 243.44,189.59 244.57,189.46 245.71,189.33 246.84,189.21 247.98,189.08 249.11,188.96 250.25,188.84 251.38,188.73 252.52,188.61 253.65,188.50 254.79,188.39 255.92,188.28 257.06,188.17 258.19,188.07 259.32,187.97 260.46,187.87 261.59,187.77 262.73,187.67 263.86,187.57 265.00,187.48 266.13,187.39 267.27,187.30 268.40,187.21 269.54,187.12 270.67,187.04 271.81,186.95 272.94,186.87 274.08,186.79 275.21,186.71 276.35,186.63 277.48,186.56 278.62,186.48 279.75,186.41 280.89,186.33 282.02,186.26 283.16,186.19 284.29,186.12 285.43,186.05 286.56,185.99 287.69,185.92 288.83,185.86 289.96,185.80 291.10,185.73 292.23,185.67 293.37,185.61 294.50,185.55 295.64,185.50 296.77,185.44 297.91,185.39 299.04,185.33 300.18,185.28 301.31,185.22 302.45,185.17 303.58,185.12 304.72,185.07 305.85,185.02 306.99,184.97 308.12,184.93 309.26,184.88 310.39,184.83 311.53,184.79 312.66,184.74 313.80,184.70 314.93,184.66 316.06,184.62 317.20,184.58 318.33,184.53 319.47,184.49 320.60,184.46 321.74,184.42 322.87,184.38 324.01,184.34 325.14,184.31 326.28,184.27 327.41,184.23 328.55,184.20 329.68,184.17 330.82,184.13 331.95,184.10 333.09,184.07 334.22,184.04 335.36,184.00 336.49,183.97 337.63,183.94 338.76,183.91 339.90,183.88 341.03,183.86 342.17,183.83 343.30,183.80" fill="none" stroke="#EDB120" stroke-width="1.3"/>
<circle cx="59.60" cy="282.85" r="2.4" fill="none" stroke="#EDB120" stroke-width="1.3"/><circle cx="65.27" cy="282.34" r="2.4" fill="none" stroke="#EDB120" stroke-width="1.3"/><circle cx="70.95" cy="279.95" r="2.4" fill="none" stroke="#EDB120" stroke-width="1.3"/><circle cx="76.62" cy="276.21" r="2.4" fill="none" stroke="#EDB120" stroke-width="1.3"/><circle cx="82.30" cy="271.56" r="2.4" fill="none" stroke="#EDB120" stroke-width="1.3"/><circle cx="87.97" cy="266.37" r="2.4" fill="none" stroke="#EDB120" stroke-width="1.3"/><circle cx="93.64" cy="260.89" r="2.4" fill="none" stroke="#EDB120" stroke-width="1.3"/><circle cx="99.32" cy="255.33" r="2.4" fill="none" stroke="#EDB120" stroke-width="1.3"/><circle cx="104.99" cy="249.85" r="2.4" fill="none" stroke="#EDB120" stroke-width="1.3"/><circle cx="110.67" cy="244.54" r="2.4" fill="none" stroke="#EDB120" stroke-width="1.3"/><circle cx="116.34" cy="239.47" r="2.4" fill="none" stroke="#EDB120" stroke-width="1.3"/><circle cx="122.01" cy="234.69" r="2.4" fill="none" stroke="#EDB120" stroke-width="1.3"/><circle cx="127.69" cy="230.22" r="2.4" fill="none" stroke="#EDB120" stroke-width="1.3"/><circle cx="133.36" cy="226.07" r="2.4" fill="none" stroke="#EDB120" stroke-width="1.3"/><circle cx="139.04" cy="222.23" r="2.4" fill="none" stroke="#EDB120" stroke-width="1.3"/><circle cx="144.71" cy="218.70" r="2.4" fill="none" stroke="#EDB120" stroke-width="1.3"/><circle cx="150.38" cy="215.47" r="2.4" fill="none" stroke="#EDB120" stroke-width="1.3"/><circle cx="156.06" cy="212.51" r="2.4" fill="none" stroke="#EDB120" stroke-width="1.3"/><circle cx="161.73" cy="209.81" r="2.4" fill="none" stroke="#EDB120" stroke-width="1.3"/><circle cx="167.41" cy="207.35" r="2.4" fill="none" stroke="#EDB120" stroke-width="1.3"/><circle cx="173.08" cy="205.11" r="2.4" fill="none" stroke="#EDB120" stroke-width="1.3"/><circle cx="178.75" cy="203.07" r="2.4" fill="none" stroke="#EDB120" stroke-width="1.3"/><circle cx="184.43" cy="201.22" r="2.4" fill="none" stroke="#EDB120" stroke-width="1.3"/><circle cx="190.10" cy="199.54" r="2.4" fill="none" stroke="#EDB120" stroke-width="1.3"/><circle cx="195.78" cy="198.01" r="2.4" fill="none" stroke="#EDB120" stroke-width="1.3"/><circle cx="201.45" cy="196.62" r="2.4" fill="none" stroke="#EDB120" stroke-width="1.3"/><circle cx="207.12" cy="195.36" r="2.4" fill="none" stroke="#EDB120" stroke-width="1.3"/><circle cx="212.80" cy="194.21" r="2.4" fill="none" stroke="#EDB120" stroke-width="1.3"/><circle cx="218.47" cy="193.17" r="2.4" fill="none" stroke="#EDB120" stroke-width="1.3"/><circle cx="224.15" cy="192.22" r="2.4" fill="none" stroke="#EDB120" stroke-width="1.3"/><circle cx="229.82" cy="191.36" r="2.4" fill="none" stroke="#EDB120" stroke-width="1.3"/><circle cx="235.49" cy="190.57" r="2.4" fill="none" stroke="#EDB120" stroke-width="1.3"/><circle cx="241.17" cy="189.86" r="2.4" fill="none" stroke="#EDB120" stroke-width="1.3"/><circle cx="246.84" cy="189.21" r="2.4" fill="none" stroke="#EDB120" stroke-width="1.3"/><circle cx="252.52" cy="188.61" r="2.4" fill="none" stroke="#EDB120" stroke-width="1.3"/><circle cx="258.19" cy="188.07" r="2.4" fill="none" stroke="#EDB120" stroke-width="1.3"/><circle cx="263.86" cy="187.57" r="2.4" fill="none" stroke="#EDB120" stroke-width="1.3"/><circle cx="269.54" cy="187.12" r="2.4" fill="none" stroke="#EDB120" stroke-width="1.3"/><circle cx="275.21" cy="186.71" r="2.4" fill="none" stroke="#EDB120" stroke-width="1.3"/><circle cx="280.89" cy="186.33" r="2.4" fill="none" stroke="#EDB120" stroke-width="1.3"/><circle cx="286.56" cy="185.99" r="2.4" fill="none" stroke="#EDB120" stroke-width="1.3"/><circle cx="292.23" cy="185.67" r="2.4" fill="none" stroke="#EDB120" stroke-width="1.3"/><circle cx="297.91" cy="185.39" r="2.4" fill="none" stroke="#EDB120" stroke-width="1.3"/><circle cx="303.58" cy="185.12" r="2.4" fill="none" stroke="#EDB120" stroke-width="1.3"/><circle cx="309.26" cy="184.88" r="2.4" fill="none" stroke="#EDB120" stroke-width="1.3"/><circle cx="314.93" cy="184.66" r="2.4" fill="none" stroke="#EDB120" stroke-width="1.3"/><circle cx="320.60" cy="184.46" r="2.4" fill="none" stroke="#EDB120" stroke-width="1.3"/><circle cx="326.28" cy="184.27" r="2.4" fill="none" stroke="#EDB120" stroke-width="1.3"/><circle cx="331.95" cy="184.10" r="2.4" fill="none" stroke="#EDB120" stroke-width="1.3"/><circle cx="337.63" cy="183.94" r="2.4" fill="none" stroke="#EDB120" stroke-width="1.3"/><circle cx="343.30" cy="183.80" r="2.4" fill="none" stroke="#EDB120" stroke-width="1.3"/>
<polyline points="59.60,266.15 60.73,266.22 61.87,266.26 63.00,266.25 64.14,266.21 65.27,266.12 66.41,265.99 67.54,265.82 68.68,265.61 69.81,265.36 70.95,265.07 72.08,264.74 73.22,264.37 74.35,263.97 75.49,263.54 76.62,263.07 77.76,262.58 78.89,262.05 80.03,261.50 81.16,260.93 82.30,260.33 83.43,259.71 84.57,259.06 85.70,258.40 86.84,257.73 87.97,257.03 89.10,256.33 90.24,255.61 91.37,254.88 92.51,254.14 93.64,253.39 94.78,252.63 95.91,251.87 97.05,251.11 98.18,250.33 99.32,249.56 100.45,248.78 101.59,248.01 102.72,247.23 103.86,246.45 104.99,245.67 106.13,244.90 107.26,244.12 108.40,243.35 109.53,242.59 110.67,241.82 111.80,241.07 112.94,240.31 114.07,239.56 115.21,238.82 116.34,238.09 117.47,237.35 118.61,236.63 119.74,235.91 120.88,235.20 122.01,234.50 123.15,233.80 124.28,233.12 125.42,232.44 126.55,231.76 127.69,231.10 128.82,230.44 129.96,229.79 131.09,229.15 132.23,228.52 133.36,227.90 134.50,227.28 135.63,226.67 136.77,226.07 137.90,225.48 139.04,224.90 140.17,224.32 141.31,223.76 142.44,223.20 143.58,222.65 144.71,222.11 145.84,221.57 146.98,221.05 148.11,220.53 149.25,220.02 150.38,219.51 151.52,219.02 152.65,218.53 153.79,218.05 154.92,217.58 156.06,217.11 157.19,216.66 158.33,216.21 159.46,215.76 160.60,215.33 161.73,214.90 162.87,214.47 164.00,214.06 165.14,213.65 166.27,213.24 167.41,212.85 168.54,212.46 169.68,212.07 170.81,211.70 171.95,211.32 173.08,210.96 174.21,210.60 175.35,210.25 176.48,209.90 177.62,209.56 178.75,209.22 179.89,208.89 181.02,208.56 182.16,208.24 183.29,207.93 184.43,207.62 185.56,207.31 186.70,207.01 187.83,206.72 188.97,206.43 190.10,206.14 191.24,205.86 192.37,205.59 193.51,205.32 194.64,205.05 195.78,204.79 196.91,204.53 198.05,204.28 199.18,204.03 200.32,203.78 201.45,203.54 202.58,203.30 203.72,203.07 204.85,202.84 205.99,202.61 207.12,202.39 208.26,202.17 209.39,201.96 210.53,201.75 211.66,201.54 212.80,201.33 213.93,201.13 215.07,200.94 216.20,200.74 217.34,200.55 218.47,200.36 219.61,200.18 220.74,200.00 221.88,199.82 223.01,199.64 224.15,199.47 225.28,199.30 226.42,199.13 227.55,198.97 228.69,198.81 229.82,198.65 230.95,198.49 232.09,198.34 233.22,198.18 234.36,198.04 235.49,197.89 236.63,197.75 237.76,197.60 238.90,197.46 240.03,197.33 241.17,197.19 242.30,197.06 243.44,196.93 244.57,196.80 245.71,196.68 246.84,196.55 247.98,196.43 249.11,196.31 250.25,196.19 251.38,196.08 252.52,195.96 253.65,195.85 254.79,195.74 255.92,195.63 257.06,195.53 258.19,195.42 259.32,195.32 260.46,195.22 261.59,195.12 262.73,195.02 263.86,194.92 265.00,194.83 266.13,194.73 267.27,194.64 268.40,194.55 269.54,194.46 270.67,194.38 271.81,194.29 272.94,194.21 274.08,194.12 275.21,194.04 276.35,193.96 277.48,193.88 278.62,193.80 279.75,193.73 280.89,193.65 282.02,193.58 283.16,193.51 284.29,193.43 285.43,193.36 286.56,193.29 287.69,193.23 288.83,193.16 289.96,193.09 291.10,193.03 292.23,192.97 293.37,192.90 294.50,192.84 295.64,192.78 296.77,192.72 297.91,192.66 299.04,192.61 300.18,192.55 301.31,192.49 302.45,192.44 303.58,192.38 304.72,192.33 305.85,192.28 306.99,192.23 308.12,192.18 309.26,192.13 310.39,192.08 311.53,192.03 312.66,191.98 313.80,191.94 314.93,191.89 316.06,191.85 317.20,191.80 318.33,191.76 319.47,191.72 320.60,191.68 321.74,191.63 322.87,191.59 324.01,191.55 325.14,191.51 326.28,191.48 327.41,191.44 328.55,191.40 329.68,191.36 330.82,191.33 331.95,191.29 333.09,191.26 334.22,191.22 335.36,191.19 336.49,191.16 337.63,191.12 338.76,191.09 339.90,191.06 341.03,191.03 342.17,191.00 343.30,190.97" fill="none" stroke="#0000FF" stroke-width="2.1"/>
<polyline points="59.60,248.48 60.73,248.54 61.87,248.59 63.00,248.64 64.14,248.69 65.27,248.72 66.41,248.74 67.54,248.73 68.68,248.71 69.81,248.67 70.95,248.61 72.08,248.52 73.22,248.42 74.35,248.29 75.49,248.13 76.62,247.96 77.76,247.76 78.89,247.54 80.03,247.30 81.16,247.04 82.30,246.77 83.43,246.47 84.57,246.16 85.70,245.83 86.84,245.49 87.97,245.14 89.10,244.77 90.24,244.39 91.37,243.99 92.51,243.59 93.64,243.18 94.78,242.76 95.91,242.33 97.05,241.90 98.18,241.46 99.32,241.02 100.45,240.57 101.59,240.12 102.72,239.66 103.86,239.20 104.99,238.74 106.13,238.28 107.26,237.82 108.40,237.36 109.53,236.90 110.67,236.44 111.80,235.98 112.94,235.52 114.07,235.06 115.21,234.61 116.34,234.16 117.47,233.71 118.61,233.26 119.74,232.82 120.88,232.38 122.01,231.94 123.15,231.51 124.28,231.08 125.42,230.65 126.55,230.23 127.69,229.82 128.82,229.41 129.96,229.00 131.09,228.60 132.23,228.20 133.36,227.81 134.50,227.42 135.63,227.03 136.77,226.65 137.90,226.28 139.04,225.91 140.17,225.55 141.31,225.19 142.44,224.83 143.58,224.48 144.71,224.14 145.84,223.80 146.98,223.46 148.11,223.13 149.25,222.81 150.38,222.48 151.52,222.17 152.65,221.86 153.79,221.55 154.92,221.25 156.06,220.95 157.19,220.65 158.33,220.36 159.46,220.08 160.60,219.80 161.73,219.52 162.87,219.25 164.00,218.98 165.14,218.72 166.27,218.46 167.41,218.20 168.54,217.95 169.68,217.70 170.81,217.46 171.95,217.22 173.08,216.98 174.21,216.75 175.35,216.52 176.48,216.30 177.62,216.07 178.75,215.85 179.89,215.64 181.02,215.43 182.16,215.22 183.29,215.01 184.43,214.81 185.56,214.61 186.70,214.42 187.83,214.23 188.97,214.04 190.10,213.85 191.24,213.67 192.37,213.49 193.51,213.31 194.64,213.14 195.78,212.96 196.91,212.79 198.05,212.63 199.18,212.46 200.32,212.30 201.45,212.14 202.58,211.99 203.72,211.83 204.85,211.68 205.99,211.53 207.12,211.39 208.26,211.24 209.39,211.10 210.53,210.96 211.66,210.83 212.80,210.69 213.93,210.56 215.07,210.43 216.20,210.30 217.34,210.17 218.47,210.05 219.61,209.92 220.74,209.80 221.88,209.68 223.01,209.57 224.15,209.45 225.28,209.34 226.42,209.23 227.55,209.12 228.69,209.01 229.82,208.90 230.95,208.80 232.09,208.70 233.22,208.60 234.36,208.50 235.49,208.40 236.63,208.30 237.76,208.21 238.90,208.11 240.03,208.02 241.17,207.93 242.30,207.84 243.44,207.76 244.57,207.67 245.71,207.59 246.84,207.50 247.98,207.42 249.11,207.34 250.25,207.26 251.38,207.18 252.52,207.11 253.65,207.03 254.79,206.96 255.92,206.88 257.06,206.81 258.19,206.74 259.32,206.67 260.46,206.60 261.59,206.53 262.73,206.47 263.86,206.40 265.00,206.34 266.13,206.28 267.27,206.21 268.40,206.15 269.54,206.09 270.67,206.03 271.81,205.97 272.94,205.92 274.08,205.86 275.21,205.81 276.35,205.75 277.48,205.70 278.62,205.64 279.75,205.59 280.89,205.54 282.02,205.49 283.16,205.44 284.29,205.39 285.43,205.34 286.56,205.30 287.69,205.25 288.83,205.21 289.96,205.16 291.10,205.12 292.23,205.07 293.37,205.03 294.50,204.99 295.64,204.95 296.77,204.91 297.91,204.87 299.04,204.83 300.18,204.79 301.31,204.75 302.45,204.71 303.58,204.68 304.72,204.64 305.85,204.60 306.99,204.57 308.12,204.53 309.26,204.50 310.39,204.47 311.53,204.43 312.66,204.40 313.80,204.37 314.93,204.34 316.06,204.31 317.20,204.28 318.33,204.25 319.47,204.22 320.60,204.19 321.74,204.16 322.87,204.13 324.01,204.10 325.14,204.08 326.28,204.05 327.41,204.02 328.55,204.00 329.68,203.97 330.82,203.95 331.95,203.92 333.09,203.90 334.22,203.88 335.36,203.85 336.49,203.83 337.63,203.81 338.76,203.79 339.90,203.76 341.03,203.74 342.17,203.72 343.30,203.70" fill="none" stroke="#77AC30" stroke-width="1.6"/>
<path d="M58.10,246.38l3,4.2M58.10,250.58l3,-4.2M63.77,246.62l3,4.2M63.77,250.82l3,-4.2M69.45,246.51l3,4.2M69.45,250.71l3,-4.2M75.12,245.86l3,4.2M75.12,250.06l3,-4.2M80.80,244.67l3,4.2M80.80,248.87l3,-4.2M86.47,243.04l3,4.2M86.47,247.24l3,-4.2M92.14,241.08l3,4.2M92.14,245.28l3,-4.2M97.82,238.92l3,4.2M97.82,243.12l3,-4.2M103.49,236.64l3,4.2M103.49,240.84l3,-4.2M109.17,234.34l3,4.2M109.17,238.54l3,-4.2M114.84,232.06l3,4.2M114.84,236.26l3,-4.2M120.51,229.84l3,4.2M120.51,234.04l3,-4.2M126.19,227.72l3,4.2M126.19,231.92l3,-4.2M131.86,225.71l3,4.2M131.86,229.91l3,-4.2M137.54,223.81l3,4.2M137.54,228.01l3,-4.2M143.21,222.04l3,4.2M143.21,226.24l3,-4.2M148.88,220.38l3,4.2M148.88,224.58l3,-4.2M154.56,218.85l3,4.2M154.56,223.05l3,-4.2M160.23,217.42l3,4.2M160.23,221.62l3,-4.2M165.91,216.10l3,4.2M165.91,220.30l3,-4.2M171.58,214.88l3,4.2M171.58,219.08l3,-4.2M177.25,213.75l3,4.2M177.25,217.95l3,-4.2M182.93,212.71l3,4.2M182.93,216.91l3,-4.2M188.60,211.75l3,4.2M188.60,215.95l3,-4.2M194.28,210.86l3,4.2M194.28,215.06l3,-4.2M199.95,210.04l3,4.2M199.95,214.24l3,-4.2M205.62,209.29l3,4.2M205.62,213.49l3,-4.2M211.30,208.59l3,4.2M211.30,212.79l3,-4.2M216.97,207.95l3,4.2M216.97,212.15l3,-4.2M222.65,207.35l3,4.2M222.65,211.55l3,-4.2M228.32,206.80l3,4.2M228.32,211.00l3,-4.2M233.99,206.30l3,4.2M233.99,210.50l3,-4.2M239.67,205.83l3,4.2M239.67,210.03l3,-4.2M245.34,205.40l3,4.2M245.34,209.60l3,-4.2M251.02,205.01l3,4.2M251.02,209.21l3,-4.2M256.69,204.64l3,4.2M256.69,208.84l3,-4.2M262.36,204.30l3,4.2M262.36,208.50l3,-4.2M268.04,203.99l3,4.2M268.04,208.19l3,-4.2M273.71,203.71l3,4.2M273.71,207.91l3,-4.2M279.39,203.44l3,4.2M279.39,207.64l3,-4.2M285.06,203.20l3,4.2M285.06,207.40l3,-4.2M290.73,202.97l3,4.2M290.73,207.17l3,-4.2M296.41,202.77l3,4.2M296.41,206.97l3,-4.2M302.08,202.58l3,4.2M302.08,206.78l3,-4.2M307.76,202.40l3,4.2M307.76,206.60l3,-4.2M313.43,202.24l3,4.2M313.43,206.44l3,-4.2M319.10,202.09l3,4.2M319.10,206.29l3,-4.2M324.78,201.95l3,4.2M324.78,206.15l3,-4.2M330.45,201.82l3,4.2M330.45,206.02l3,-4.2M336.13,201.71l3,4.2M336.13,205.91l3,-4.2M341.80,201.60l3,4.2M341.80,205.80l3,-4.2" stroke="#77AC30" stroke-width="1.25" fill="none"/>
<polyline points="59.60,233.08 60.73,233.41 61.87,233.70 63.00,233.98 64.14,234.22 65.27,234.45 66.41,234.64 67.54,234.81 68.68,234.96 69.81,235.09 70.95,235.19 72.08,235.27 73.22,235.33 74.35,235.37 75.49,235.40 76.62,235.40 77.76,235.39 78.89,235.36 80.03,235.32 81.16,235.26 82.30,235.19 83.43,235.11 84.57,235.01 85.70,234.91 86.84,234.79 87.97,234.66 89.10,234.53 90.24,234.39 91.37,234.24 92.51,234.08 93.64,233.92 94.78,233.75 95.91,233.57 97.05,233.39 98.18,233.21 99.32,233.02 100.45,232.83 101.59,232.64 102.72,232.44 103.86,232.25 104.99,232.05 106.13,231.84 107.26,231.64 108.40,231.44 109.53,231.23 110.67,231.03 111.80,230.82 112.94,230.62 114.07,230.41 115.21,230.21 116.34,230.01 117.47,229.80 118.61,229.60 119.74,229.40 120.88,229.20 122.01,229.00 123.15,228.81 124.28,228.61 125.42,228.42 126.55,228.23 127.69,228.04 128.82,227.85 129.96,227.66 131.09,227.48 132.23,227.29 133.36,227.11 134.50,226.94 135.63,226.76 136.77,226.58 137.90,226.41 139.04,226.24 140.17,226.08 141.31,225.91 142.44,225.75 143.58,225.59 144.71,225.43 145.84,225.27 146.98,225.12 148.11,224.96 149.25,224.81 150.38,224.67 151.52,224.52 152.65,224.38 153.79,224.24 154.92,224.10 156.06,223.96 157.19,223.83 158.33,223.69 159.46,223.56 160.60,223.44 161.73,223.31 162.87,223.18 164.00,223.06 165.14,222.94 166.27,222.82 167.41,222.71 168.54,222.59 169.68,222.48 170.81,222.37 171.95,222.26 173.08,222.15 174.21,222.05 175.35,221.94 176.48,221.84 177.62,221.74 178.75,221.64 179.89,221.54 181.02,221.45 182.16,221.36 183.29,221.26 184.43,221.17 185.56,221.08 186.70,221.00 187.83,220.91 188.97,220.83 190.10,220.74 191.24,220.66 192.37,220.58 193.51,220.50 194.64,220.42 195.78,220.35 196.91,220.27 198.05,220.20 199.18,220.13 200.32,220.05 201.45,219.98 202.58,219.92 203.72,219.85 204.85,219.78 205.99,219.72 207.12,219.65 208.26,219.59 209.39,219.53 210.53,219.47 211.66,219.41 212.80,219.35 213.93,219.29 215.07,219.23 216.20,219.18 217.34,219.12 218.47,219.07 219.61,219.01 220.74,218.96 221.88,218.91 223.01,218.86 224.15,218.81 225.28,218.76 226.42,218.71 227.55,218.67 228.69,218.62 229.82,218.58 230.95,218.53 232.09,218.49 233.22,218.44 234.36,218.40 235.49,218.36 236.63,218.32 237.76,218.28 238.90,218.24 240.03,218.20 241.17,218.16 242.30,218.12 243.44,218.09 244.57,218.05 245.71,218.02 246.84,217.98 247.98,217.95 249.11,217.91 250.25,217.88 251.38,217.85 252.52,217.81 253.65,217.78 254.79,217.75 255.92,217.72 257.06,217.69 258.19,217.66 259.32,217.63 260.46,217.60 261.59,217.58 262.73,217.55 263.86,217.52 265.00,217.49 266.13,217.47 267.27,217.44 268.40,217.42 269.54,217.39 270.67,217.37 271.81,217.34 272.94,217.32 274.08,217.30 275.21,217.27 276.35,217.25 277.48,217.23 278.62,217.21 279.75,217.19 280.89,217.17 282.02,217.14 283.16,217.12 284.29,217.10 285.43,217.08 286.56,217.07 287.69,217.05 288.83,217.03 289.96,217.01 291.10,216.99 292.23,216.97 293.37,216.96 294.50,216.94 295.64,216.92 296.77,216.91 297.91,216.89 299.04,216.87 300.18,216.86 301.31,216.84 302.45,216.83 303.58,216.81 304.72,216.80 305.85,216.78 306.99,216.77 308.12,216.75 309.26,216.74 310.39,216.73 311.53,216.71 312.66,216.70 313.80,216.69 314.93,216.68 316.06,216.66 317.20,216.65 318.33,216.64 319.47,216.63 320.60,216.62 321.74,216.60 322.87,216.59 324.01,216.58 325.14,216.57 326.28,216.56 327.41,216.55 328.55,216.54 329.68,216.53 330.82,216.52 331.95,216.51 333.09,216.50 334.22,216.49 335.36,216.48 336.49,216.47 337.63,216.46 338.76,216.45 339.90,216.45 341.03,216.44 342.17,216.43 343.30,216.42" fill="none" stroke="#FF0000" stroke-width="2.4" stroke-dasharray="8.3,2.4,4.4,2.4"/>
<polyline points="59.60,224.56 60.73,225.07 61.87,225.53 63.00,225.95 64.14,226.32 65.27,226.66 66.41,226.96 67.54,227.23 68.68,227.46 69.81,227.68 70.95,227.87 72.08,228.03 73.22,228.18 74.35,228.31 75.49,228.42 76.62,228.52 77.76,228.61 78.89,228.68 80.03,228.74 81.16,228.79 82.30,228.83 83.43,228.86 84.57,228.89 85.70,228.90 86.84,228.92 87.97,228.92 89.10,228.92 90.24,228.91 91.37,228.90 92.51,228.89 93.64,228.87 94.78,228.85 95.91,228.82 97.05,228.79 98.18,228.76 99.32,228.73 100.45,228.69 101.59,228.66 102.72,228.62 103.86,228.57 104.99,228.53 106.13,228.49 107.26,228.44 108.40,228.39 109.53,228.34 110.67,228.30 111.80,228.25 112.94,228.19 114.07,228.14 115.21,228.09 116.34,228.04 117.47,227.98 118.61,227.93 119.74,227.87 120.88,227.82 122.01,227.76 123.15,227.71 124.28,227.65 125.42,227.59 126.55,227.54 127.69,227.48 128.82,227.43 129.96,227.37 131.09,227.31 132.23,227.26 133.36,227.20 134.50,227.14 135.63,227.09 136.77,227.03 137.90,226.98 139.04,226.92 140.17,226.87 141.31,226.81 142.44,226.76 143.58,226.70 144.71,226.65 145.84,226.59 146.98,226.54 148.11,226.49 149.25,226.43 150.38,226.38 151.52,226.33 152.65,226.28 153.79,226.23 154.92,226.18 156.06,226.13 157.19,226.08 158.33,226.03 159.46,225.98 160.60,225.93 161.73,225.88 162.87,225.83 164.00,225.79 165.14,225.74 166.27,225.69 167.41,225.65 168.54,225.60 169.68,225.56 170.81,225.51 171.95,225.47 173.08,225.42 174.21,225.38 175.35,225.34 176.48,225.30 177.62,225.25 178.75,225.21 179.89,225.17 181.02,225.13 182.16,225.09 183.29,225.05 184.43,225.02 185.56,224.98 186.70,224.94 187.83,224.90 188.97,224.87 190.10,224.83 191.24,224.79 192.37,224.76 193.51,224.72 194.64,224.69 195.78,224.65 196.91,224.62 198.05,224.59 199.18,224.56 200.32,224.52 201.45,224.49 202.58,224.46 203.72,224.43 204.85,224.40 205.99,224.37 207.12,224.34 208.26,224.31 209.39,224.28 210.53,224.25 211.66,224.22 212.80,224.20 213.93,224.17 215.07,224.14 216.20,224.12 217.34,224.09 218.47,224.06 219.61,224.04 220.74,224.01 221.88,223.99 223.01,223.97 224.15,223.94 225.28,223.92 226.42,223.90 227.55,223.87 228.69,223.85 229.82,223.83 230.95,223.81 232.09,223.79 233.22,223.76 234.36,223.74 235.49,223.72 236.63,223.70 237.76,223.68 238.90,223.66 240.03,223.64 241.17,223.63 242.30,223.61 243.44,223.59 244.57,223.57 245.71,223.55 246.84,223.53 247.98,223.52 249.11,223.50 250.25,223.48 251.38,223.47 252.52,223.45 253.65,223.44 254.79,223.42 255.92,223.40 257.06,223.39 258.19,223.37 259.32,223.36 260.46,223.34 261.59,223.33 262.73,223.32 263.86,223.30 265.00,223.29 266.13,223.28 267.27,223.26 268.40,223.25 269.54,223.24 270.67,223.22 271.81,223.21 272.94,223.20 274.08,223.19 275.21,223.18 276.35,223.16 277.48,223.15 278.62,223.14 279.75,223.13 280.89,223.12 282.02,223.11 283.16,223.10 284.29,223.09 285.43,223.08 286.56,223.07 287.69,223.06 288.83,223.05 289.96,223.04 291.10,223.03 292.23,223.02 293.37,223.01 294.50,223.00 295.64,222.99 296.77,222.98 297.91,222.98 299.04,222.97 300.18,222.96 301.31,222.95 302.45,222.94 303.58,222.94 304.72,222.93 305.85,222.92 306.99,222.91 308.12,222.91 309.26,222.90 310.39,222.89 311.53,222.88 312.66,222.88 313.80,222.87 314.93,222.86 316.06,222.86 317.20,222.85 318.33,222.84 319.47,222.84 320.60,222.83 321.74,222.83 322.87,222.82 324.01,222.81 325.14,222.81 326.28,222.80 327.41,222.80 328.55,222.79 329.68,222.79 330.82,222.78 331.95,222.78 333.09,222.77 334.22,222.77 335.36,222.76 336.49,222.76 337.63,222.75 338.76,222.75 339.90,222.74 341.03,222.74 342.17,222.73 343.30,222.73" fill="none" stroke="#000000" stroke-width="1.5" stroke-dasharray="5,5.5"/>
<rect x="394.1" y="8.3" width="284.79999999999995" height="137.39999999999998" fill="#fff"/>
<path d="M394.1,10.30H678.9M394.1,39.70H678.9M394.1,69.10H678.9M394.1,98.50H678.9M394.1,127.90H678.9" stroke="#ebebeb" stroke-width="0.8" fill="none"/>
<path d="M394.1,10.30h3.3M678.9,10.30h-3.3M394.1,39.70h3.3M678.9,39.70h-3.3M394.1,69.10h3.3M678.9,69.10h-3.3M394.1,98.50h3.3M678.9,98.50h-3.3M394.1,127.90h3.3M678.9,127.90h-3.3M394.10,145.7v-3.3M394.10,8.3v3.3M451.06,145.7v-3.3M451.06,8.3v3.3M508.02,145.7v-3.3M508.02,8.3v3.3M564.98,145.7v-3.3M564.98,8.3v3.3M621.94,145.7v-3.3M621.94,8.3v3.3M678.90,145.7v-3.3M678.90,8.3v3.3" stroke="#8a8a8a" stroke-width="0.9" fill="none"/>
<rect x="394.1" y="8.3" width="284.79999999999995" height="137.39999999999998" fill="none" stroke="#9a9a9a" stroke-width="0.9"/>
<text x="383.13" y="15.20" class="tl">0</text>
<text x="369.12" y="44.60" class="tl">-0.</text><path d="M238,0L378,0L378,710L268,710C254,652 214,612 150,604L69,600L69,493L238,493Z" transform="translate(383.13,44.60) scale(0.0120,-0.0120)" fill="#262626"/>
<text x="369.12" y="74.00" class="tl">-0.2</text>
<text x="369.12" y="103.40" class="tl">-0.3</text>
<text x="369.12" y="132.80" class="tl">-0.4</text>
<text x="390.76" y="161.60" class="tl">0</text>
<text x="447.72" y="161.60" class="tl">2</text>
<text x="504.68" y="161.60" class="tl">4</text>
<text x="561.64" y="161.60" class="tl">6</text>
<text x="618.60" y="161.60" class="tl">8</text>
<path d="M238,0L378,0L378,710L268,710C254,652 214,612 150,604L69,600L69,493L238,493Z" transform="translate(672.23,161.60) scale(0.0120,-0.0120)" fill="#262626"/><text x="678.90" y="161.60" class="tl">0</text>
<polyline points="394.10,45.29 408.34,40.58 422.58,36.47 436.82,32.79 451.06,31.32 465.30,28.82 479.54,26.91 493.78,25.09 508.02,23.41 522.26,22.50 536.50,21.59 550.74,20.80 564.98,20.21 579.22,19.41 593.46,18.97 607.70,18.62 621.94,18.30 636.18,18.00 650.42,17.71 664.66,17.44 678.90,17.21" fill="none" stroke="#EDB120" stroke-width="1.3"/>
<circle cx="394.10" cy="45.29" r="2.05" fill="none" stroke="#EDB120" stroke-width="1.3"/><circle cx="408.34" cy="40.58" r="2.05" fill="none" stroke="#EDB120" stroke-width="1.3"/><circle cx="422.58" cy="36.47" r="2.05" fill="none" stroke="#EDB120" stroke-width="1.3"/><circle cx="436.82" cy="32.79" r="2.05" fill="none" stroke="#EDB120" stroke-width="1.3"/><circle cx="451.06" cy="31.32" r="2.05" fill="none" stroke="#EDB120" stroke-width="1.3"/><circle cx="465.30" cy="28.82" r="2.05" fill="none" stroke="#EDB120" stroke-width="1.3"/><circle cx="479.54" cy="26.91" r="2.05" fill="none" stroke="#EDB120" stroke-width="1.3"/><circle cx="493.78" cy="25.09" r="2.05" fill="none" stroke="#EDB120" stroke-width="1.3"/><circle cx="508.02" cy="23.41" r="2.05" fill="none" stroke="#EDB120" stroke-width="1.3"/><circle cx="522.26" cy="22.50" r="2.05" fill="none" stroke="#EDB120" stroke-width="1.3"/><circle cx="536.50" cy="21.59" r="2.05" fill="none" stroke="#EDB120" stroke-width="1.3"/><circle cx="550.74" cy="20.80" r="2.05" fill="none" stroke="#EDB120" stroke-width="1.3"/><circle cx="564.98" cy="20.21" r="2.05" fill="none" stroke="#EDB120" stroke-width="1.3"/><circle cx="579.22" cy="19.41" r="2.05" fill="none" stroke="#EDB120" stroke-width="1.3"/><circle cx="593.46" cy="18.97" r="2.05" fill="none" stroke="#EDB120" stroke-width="1.3"/><circle cx="607.70" cy="18.62" r="2.05" fill="none" stroke="#EDB120" stroke-width="1.3"/><circle cx="621.94" cy="18.30" r="2.05" fill="none" stroke="#EDB120" stroke-width="1.3"/><circle cx="636.18" cy="18.00" r="2.05" fill="none" stroke="#EDB120" stroke-width="1.3"/><circle cx="650.42" cy="17.71" r="2.05" fill="none" stroke="#EDB120" stroke-width="1.3"/><circle cx="664.66" cy="17.44" r="2.05" fill="none" stroke="#EDB120" stroke-width="1.3"/><circle cx="678.90" cy="17.21" r="2.05" fill="none" stroke="#EDB120" stroke-width="1.3"/>
<polyline points="394.10,60.28 408.34,49.70 422.58,42.05 436.82,35.88 451.06,31.32 465.30,27.79 479.54,25.00 493.78,22.80 508.02,21.03 522.26,19.65 536.50,18.59 550.74,17.74 564.98,17.12 579.22,16.62 593.46,16.24 607.70,15.93 621.94,15.65 636.18,15.34 650.42,15.06 664.66,14.84 678.90,14.65" fill="none" stroke="#0000FF" stroke-width="2.1"/>
<polyline points="394.10,87.92 408.34,64.40 422.58,48.23 436.82,37.94 451.06,30.29 465.30,24.27 479.54,21.59 493.78,18.71 508.02,16.71 522.26,15.21 536.50,14.09 550.74,13.21 564.98,12.89 579.22,12.51 593.46,12.21 607.70,11.97 621.94,11.77 636.18,11.61 650.42,11.48 664.66,11.37 678.90,11.30" fill="none" stroke="#77AC30" stroke-width="1.6"/>
<path d="M392.60,85.82l3,4.2M392.60,90.02l3,-4.2M406.84,62.30l3,4.2M406.84,66.50l3,-4.2M421.08,46.13l3,4.2M421.08,50.33l3,-4.2M435.32,35.84l3,4.2M435.32,40.04l3,-4.2M449.56,28.19l3,4.2M449.56,32.39l3,-4.2M463.80,22.16l3,4.2M463.80,26.37l3,-4.2M478.04,19.49l3,4.2M478.04,23.69l3,-4.2M492.28,16.61l3,4.2M492.28,20.81l3,-4.2M506.52,14.61l3,4.2M506.52,18.81l3,-4.2M520.76,13.11l3,4.2M520.76,17.31l3,-4.2M535.00,11.99l3,4.2M535.00,16.19l3,-4.2M549.24,11.11l3,4.2M549.24,15.31l3,-4.2M563.48,10.79l3,4.2M563.48,14.99l3,-4.2M577.72,10.41l3,4.2M577.72,14.61l3,-4.2M591.96,10.11l3,4.2M591.96,14.31l3,-4.2M606.20,9.87l3,4.2M606.20,14.07l3,-4.2M620.44,9.67l3,4.2M620.44,13.87l3,-4.2M634.68,9.51l3,4.2M634.68,13.71l3,-4.2M648.92,9.38l3,4.2M648.92,13.58l3,-4.2M663.16,9.27l3,4.2M663.16,13.47l3,-4.2M677.40,9.20l3,4.2M677.40,13.40l3,-4.2" stroke="#77AC30" stroke-width="1.25" fill="none"/>
<polyline points="394.10,116.43 408.34,75.57 422.58,51.46 436.82,35.29 451.06,26.47 465.30,20.59 479.54,17.36 493.78,14.71 508.02,13.21 522.26,12.12 536.50,11.33 550.74,10.89 564.98,10.59 579.22,10.41 593.46,10.30 607.70,10.24 621.94,10.21 636.18,10.19 650.42,10.17 664.66,10.16 678.90,10.15" fill="none" stroke="#FF0000" stroke-width="2.4" stroke-dasharray="8.3,2.4,4.4,2.4"/>
<polyline points="394.10,145.54 408.34,86.15 422.58,55.87 436.82,30.88 451.06,20.88 465.30,16.47 479.54,13.68 493.78,11.92 508.02,10.59 522.26,9.71 536.50,9.21 550.74,8.98 564.98,8.77 579.22,8.70 593.46,8.65 607.70,8.61 621.94,8.59 636.18,8.59 650.42,8.59 664.66,8.59 678.90,8.59" fill="none" stroke="#000000" stroke-width="1.5" stroke-dasharray="5,5.5"/>
<rect x="394.6" y="168.5" width="283.79999999999995" height="138.39999999999998" fill="#fff"/>
<path d="M394.6,187.00H678.4M394.6,207.68H678.4M394.6,228.36H678.4M394.6,249.04H678.4M394.6,269.72H678.4M394.6,290.40H678.4" stroke="#ebebeb" stroke-width="0.8" fill="none"/>
<path d="M394.6,187.00h3.3M678.4,187.00h-3.3M394.6,207.68h3.3M678.4,207.68h-3.3M394.6,228.36h3.3M678.4,228.36h-3.3M394.6,249.04h3.3M678.4,249.04h-3.3M394.6,269.72h3.3M678.4,269.72h-3.3M394.6,290.40h3.3M678.4,290.40h-3.3M394.60,306.9v-3.3M394.60,168.5v3.3M451.36,306.9v-3.3M451.36,168.5v3.3M508.12,306.9v-3.3M508.12,168.5v3.3M564.88,306.9v-3.3M564.88,168.5v3.3M621.64,306.9v-3.3M621.64,168.5v3.3M678.40,306.9v-3.3M678.40,168.5v3.3" stroke="#8a8a8a" stroke-width="0.9" fill="none"/>
<rect x="394.6" y="168.5" width="283.79999999999995" height="138.39999999999998" fill="none" stroke="#9a9a9a" stroke-width="0.9"/>
<text x="383.63" y="191.90" class="tl">0</text>
<text x="362.95" y="212.58" class="tl">-0.02</text>
<text x="362.95" y="233.26" class="tl">-0.04</text>
<text x="362.95" y="253.94" class="tl">-0.06</text>
<text x="362.95" y="274.62" class="tl">-0.08</text>
<text x="369.62" y="295.30" class="tl">-0.</text><path d="M238,0L378,0L378,710L268,710C254,652 214,612 150,604L69,600L69,493L238,493Z" transform="translate(383.63,295.30) scale(0.0120,-0.0120)" fill="#262626"/>
<text x="391.26" y="323.30" class="tl">0</text>
<text x="448.02" y="323.30" class="tl">5</text>
<path d="M238,0L378,0L378,710L268,710C254,652 214,612 150,604L69,600L69,493L238,493Z" transform="translate(501.45,323.30) scale(0.0120,-0.0120)" fill="#262626"/><text x="508.12" y="323.30" class="tl">0</text>
<path d="M238,0L378,0L378,710L268,710C254,652 214,612 150,604L69,600L69,493L238,493Z" transform="translate(558.21,323.30) scale(0.0120,-0.0120)" fill="#262626"/><text x="564.88" y="323.30" class="tl">5</text>
<text x="614.97" y="323.30" class="tl">20</text>
<text x="671.73" y="323.30" class="tl">25</text>
<polyline points="394.60,306.31 395.74,305.15 396.87,303.99 398.01,302.81 399.14,301.62 400.28,300.39 401.41,299.13 402.55,297.82 403.68,296.48 404.82,295.09 405.95,293.67 407.09,292.20 408.22,290.69 409.36,289.15 410.49,287.58 411.63,285.97 412.76,284.34 413.90,282.69 415.03,281.01 416.17,279.32 417.30,277.61 418.44,275.89 419.57,274.16 420.71,272.42 421.84,270.69 422.98,268.95 424.12,267.21 425.25,265.48 426.39,263.75 427.52,262.03 428.66,260.32 429.79,258.62 430.93,256.94 432.06,255.26 433.20,253.61 434.33,251.97 435.47,250.34 436.60,248.74 437.74,247.15 438.87,245.58 440.01,244.03 441.14,242.51 442.28,241.00 443.41,239.52 444.55,238.05 445.68,236.61 446.82,235.19 447.95,233.80 449.09,232.42 450.22,231.07 451.36,229.74 452.50,228.43 453.63,227.14 454.77,225.88 455.90,224.64 457.04,223.42 458.17,222.22 459.31,221.05 460.44,219.89 461.58,218.76 462.71,217.65 463.85,216.55 464.98,215.48 466.12,214.43 467.25,213.40 468.39,212.39 469.52,211.40 470.66,210.43 471.79,209.48 472.93,208.54 474.06,207.63 475.20,206.73 476.33,205.85 477.47,204.99 478.60,204.15 479.74,203.32 480.88,202.51 482.01,201.72 483.15,200.94 484.28,200.18 485.42,199.44 486.55,198.71 487.69,198.00 488.82,197.30 489.96,196.62 491.09,195.95 492.23,195.29 493.36,194.65 494.50,194.03 495.63,193.41 496.77,192.81 497.90,192.23 499.04,191.65 500.17,191.09 501.31,190.54 502.44,190.01 503.58,189.48 504.71,188.97 505.85,188.47 506.98,187.98 508.12,187.50 509.26,187.03 510.39,186.57 511.53,186.12 512.66,185.69 513.80,185.26 514.93,184.84 516.07,184.43 517.20,184.04 518.34,183.65 519.47,183.26 520.61,182.89 521.74,182.53 522.88,182.17 524.01,181.83 525.15,181.49 526.28,181.16 527.42,180.84 528.55,180.52 529.69,180.21 530.82,179.91 531.96,179.62 533.09,179.33 534.23,179.05 535.36,178.78 536.50,178.51 537.64,178.25 538.77,178.00 539.91,177.75 541.04,177.51 542.18,177.27 543.31,177.04 544.45,176.81 545.58,176.59 546.72,176.38 547.85,176.17 548.99,175.96 550.12,175.76 551.26,175.57 552.39,175.38 553.53,175.19 554.66,175.01 555.80,174.83 556.93,174.66 558.07,174.49 559.20,174.33 560.34,174.17 561.47,174.01 562.61,173.86 563.74,173.71 564.88,173.56 566.02,173.42 567.15,173.28 568.29,173.15 569.42,173.01 570.56,172.88 571.69,172.76 572.83,172.64 573.96,172.52 575.10,172.40 576.23,172.28 577.37,172.17 578.50,172.06 579.64,171.96 580.77,171.85 581.91,171.75 583.04,171.65 584.18,171.56 585.31,171.46 586.45,171.37 587.58,171.28 588.72,171.19 589.85,171.11 590.99,171.03 592.12,170.94 593.26,170.86 594.40,170.79 595.53,170.71 596.67,170.64 597.80,170.57 598.94,170.49 600.07,170.43 601.21,170.36 602.34,170.29 603.48,170.23 604.61,170.17 605.75,170.11 606.88,170.05 608.02,169.99 609.15,169.93 610.29,169.87 611.42,169.82 612.56,169.77 613.69,169.72 614.83,169.66 615.96,169.62 617.10,169.57 618.23,169.52 619.37,169.47 620.50,169.43 621.64,169.38 622.78,169.34 623.91,169.30 625.05,169.26 626.18,169.22 627.32,169.18 628.45,169.14 629.59,169.10 630.72,169.07 631.86,169.03 632.99,169.00 634.13,168.96 635.26,168.93 636.40,168.89 637.53,168.86 638.67,168.83 639.80,168.80 640.94,168.77 642.07,168.74 643.21,168.71 644.34,168.69 645.48,168.66 646.61,168.63 647.75,168.61 648.88,168.58 650.02,168.55 651.16,168.53 652.29,168.51 653.43,168.48 654.56,168.46 655.70,168.44 656.83,168.42 657.97,168.39 659.10,168.37 660.24,168.35 661.37,168.33 662.51,168.31 663.64,168.29 664.78,168.27 665.91,168.26 667.05,168.24 668.18,168.22 669.32,168.20 670.45,168.19 671.59,168.17 672.72,168.15 673.86,168.14 674.99,168.12 676.13,168.11 677.26,168.09 678.40,168.08" fill="none" stroke="#EDB120" stroke-width="1.3"/>
<circle cx="394.60" cy="306.31" r="2.4" fill="none" stroke="#EDB120" stroke-width="1.3"/><circle cx="400.28" cy="300.39" r="2.4" fill="none" stroke="#EDB120" stroke-width="1.3"/><circle cx="405.95" cy="293.67" r="2.4" fill="none" stroke="#EDB120" stroke-width="1.3"/><circle cx="411.63" cy="285.97" r="2.4" fill="none" stroke="#EDB120" stroke-width="1.3"/><circle cx="417.30" cy="277.61" r="2.4" fill="none" stroke="#EDB120" stroke-width="1.3"/><circle cx="422.98" cy="268.95" r="2.4" fill="none" stroke="#EDB120" stroke-width="1.3"/><circle cx="428.66" cy="260.32" r="2.4" fill="none" stroke="#EDB120" stroke-width="1.3"/><circle cx="434.33" cy="251.97" r="2.4" fill="none" stroke="#EDB120" stroke-width="1.3"/><circle cx="440.01" cy="244.03" r="2.4" fill="none" stroke="#EDB120" stroke-width="1.3"/><circle cx="445.68" cy="236.61" r="2.4" fill="none" stroke="#EDB120" stroke-width="1.3"/><circle cx="451.36" cy="229.74" r="2.4" fill="none" stroke="#EDB120" stroke-width="1.3"/><circle cx="457.04" cy="223.42" r="2.4" fill="none" stroke="#EDB120" stroke-width="1.3"/><circle cx="462.71" cy="217.65" r="2.4" fill="none" stroke="#EDB120" stroke-width="1.3"/><circle cx="468.39" cy="212.39" r="2.4" fill="none" stroke="#EDB120" stroke-width="1.3"/><circle cx="474.06" cy="207.63" r="2.4" fill="none" stroke="#EDB120" stroke-width="1.3"/><circle cx="479.74" cy="203.32" r="2.4" fill="none" stroke="#EDB120" stroke-width="1.3"/><circle cx="485.42" cy="199.44" r="2.4" fill="none" stroke="#EDB120" stroke-width="1.3"/><circle cx="491.09" cy="195.95" r="2.4" fill="none" stroke="#EDB120" stroke-width="1.3"/><circle cx="496.77" cy="192.81" r="2.4" fill="none" stroke="#EDB120" stroke-width="1.3"/><circle cx="502.44" cy="190.01" r="2.4" fill="none" stroke="#EDB120" stroke-width="1.3"/><circle cx="508.12" cy="187.50" r="2.4" fill="none" stroke="#EDB120" stroke-width="1.3"/><circle cx="513.80" cy="185.26" r="2.4" fill="none" stroke="#EDB120" stroke-width="1.3"/><circle cx="519.47" cy="183.26" r="2.4" fill="none" stroke="#EDB120" stroke-width="1.3"/><circle cx="525.15" cy="181.49" r="2.4" fill="none" stroke="#EDB120" stroke-width="1.3"/><circle cx="530.82" cy="179.91" r="2.4" fill="none" stroke="#EDB120" stroke-width="1.3"/><circle cx="536.50" cy="178.51" r="2.4" fill="none" stroke="#EDB120" stroke-width="1.3"/><circle cx="542.18" cy="177.27" r="2.4" fill="none" stroke="#EDB120" stroke-width="1.3"/><circle cx="547.85" cy="176.17" r="2.4" fill="none" stroke="#EDB120" stroke-width="1.3"/><circle cx="553.53" cy="175.19" r="2.4" fill="none" stroke="#EDB120" stroke-width="1.3"/><circle cx="559.20" cy="174.33" r="2.4" fill="none" stroke="#EDB120" stroke-width="1.3"/><circle cx="564.88" cy="173.56" r="2.4" fill="none" stroke="#EDB120" stroke-width="1.3"/><circle cx="570.56" cy="172.88" r="2.4" fill="none" stroke="#EDB120" stroke-width="1.3"/><circle cx="576.23" cy="172.28" r="2.4" fill="none" stroke="#EDB120" stroke-width="1.3"/><circle cx="581.91" cy="171.75" r="2.4" fill="none" stroke="#EDB120" stroke-width="1.3"/><circle cx="587.58" cy="171.28" r="2.4" fill="none" stroke="#EDB120" stroke-width="1.3"/><circle cx="593.26" cy="170.86" r="2.4" fill="none" stroke="#EDB120" stroke-width="1.3"/><circle cx="598.94" cy="170.49" r="2.4" fill="none" stroke="#EDB120" stroke-width="1.3"/><circle cx="604.61" cy="170.17" r="2.4" fill="none" stroke="#EDB120" stroke-width="1.3"/><circle cx="610.29" cy="169.87" r="2.4" fill="none" stroke="#EDB120" stroke-width="1.3"/><circle cx="615.96" cy="169.62" r="2.4" fill="none" stroke="#EDB120" stroke-width="1.3"/><circle cx="621.64" cy="169.38" r="2.4" fill="none" stroke="#EDB120" stroke-width="1.3"/><circle cx="627.32" cy="169.18" r="2.4" fill="none" stroke="#EDB120" stroke-width="1.3"/><circle cx="632.99" cy="169.00" r="2.4" fill="none" stroke="#EDB120" stroke-width="1.3"/><circle cx="638.67" cy="168.83" r="2.4" fill="none" stroke="#EDB120" stroke-width="1.3"/><circle cx="644.34" cy="168.69" r="2.4" fill="none" stroke="#EDB120" stroke-width="1.3"/><circle cx="650.02" cy="168.55" r="2.4" fill="none" stroke="#EDB120" stroke-width="1.3"/><circle cx="655.70" cy="168.44" r="2.4" fill="none" stroke="#EDB120" stroke-width="1.3"/><circle cx="661.37" cy="168.33" r="2.4" fill="none" stroke="#EDB120" stroke-width="1.3"/><circle cx="667.05" cy="168.24" r="2.4" fill="none" stroke="#EDB120" stroke-width="1.3"/><circle cx="672.72" cy="168.15" r="2.4" fill="none" stroke="#EDB120" stroke-width="1.3"/><circle cx="678.40" cy="168.08" r="2.4" fill="none" stroke="#EDB120" stroke-width="1.3"/>
<polyline points="394.60,281.00 395.74,281.21 396.87,281.29 398.01,281.26 399.14,281.12 400.28,280.89 401.41,280.56 402.55,280.15 403.68,279.67 404.82,279.11 405.95,278.50 407.09,277.82 408.22,277.09 409.36,276.31 410.49,275.49 411.63,274.62 412.76,273.72 413.90,272.78 415.03,271.81 416.17,270.81 417.30,269.78 418.44,268.73 419.57,267.66 420.71,266.57 421.84,265.46 422.98,264.34 424.12,263.21 425.25,262.07 426.39,260.91 427.52,259.75 428.66,258.59 429.79,257.42 430.93,256.25 432.06,255.08 433.20,253.91 434.33,252.73 435.47,251.57 436.60,250.40 437.74,249.24 438.87,248.09 440.01,246.94 441.14,245.80 442.28,244.66 443.41,243.54 444.55,242.42 445.68,241.32 446.82,240.22 447.95,239.13 449.09,238.06 450.22,237.00 451.36,235.95 452.50,234.91 453.63,233.89 454.77,232.87 455.90,231.87 457.04,230.89 458.17,229.92 459.31,228.96 460.44,228.01 461.58,227.08 462.71,226.17 463.85,225.26 464.98,224.37 466.12,223.50 467.25,222.64 468.39,221.79 469.52,220.96 470.66,220.14 471.79,219.34 472.93,218.54 474.06,217.77 475.20,217.00 476.33,216.25 477.47,215.51 478.60,214.79 479.74,214.08 480.88,213.38 482.01,212.70 483.15,212.02 484.28,211.36 485.42,210.71 486.55,210.08 487.69,209.45 488.82,208.84 489.96,208.24 491.09,207.65 492.23,207.07 493.36,206.50 494.50,205.95 495.63,205.40 496.77,204.87 497.90,204.34 499.04,203.83 500.17,203.32 501.31,202.83 502.44,202.34 503.58,201.87 504.71,201.40 505.85,200.94 506.98,200.49 508.12,200.05 509.26,199.62 510.39,199.20 511.53,198.79 512.66,198.38 513.80,197.98 514.93,197.59 516.07,197.21 517.20,196.83 518.34,196.46 519.47,196.10 520.61,195.75 521.74,195.40 522.88,195.06 524.01,194.73 525.15,194.40 526.28,194.08 527.42,193.76 528.55,193.46 529.69,193.15 530.82,192.86 531.96,192.57 533.09,192.28 534.23,192.00 535.36,191.73 536.50,191.46 537.64,191.19 538.77,190.93 539.91,190.68 541.04,190.43 542.18,190.19 543.31,189.95 544.45,189.71 545.58,189.48 546.72,189.26 547.85,189.03 548.99,188.82 550.12,188.60 551.26,188.39 552.39,188.19 553.53,187.99 554.66,187.79 555.80,187.59 556.93,187.40 558.07,187.22 559.20,187.03 560.34,186.85 561.47,186.68 562.61,186.50 563.74,186.33 564.88,186.17 566.02,186.00 567.15,185.84 568.29,185.68 569.42,185.53 570.56,185.38 571.69,185.23 572.83,185.08 573.96,184.94 575.10,184.79 576.23,184.66 577.37,184.52 578.50,184.39 579.64,184.25 580.77,184.13 581.91,184.00 583.04,183.88 584.18,183.75 585.31,183.63 586.45,183.52 587.58,183.40 588.72,183.29 589.85,183.18 590.99,183.07 592.12,182.96 593.26,182.85 594.40,182.75 595.53,182.65 596.67,182.55 597.80,182.45 598.94,182.35 600.07,182.26 601.21,182.17 602.34,182.07 603.48,181.98 604.61,181.90 605.75,181.81 606.88,181.72 608.02,181.64 609.15,181.56 610.29,181.48 611.42,181.40 612.56,181.32 613.69,181.24 614.83,181.17 615.96,181.10 617.10,181.02 618.23,180.95 619.37,180.88 620.50,180.81 621.64,180.75 622.78,180.68 623.91,180.61 625.05,180.55 626.18,180.49 627.32,180.42 628.45,180.36 629.59,180.30 630.72,180.25 631.86,180.19 632.99,180.13 634.13,180.08 635.26,180.02 636.40,179.97 637.53,179.91 638.67,179.86 639.80,179.81 640.94,179.76 642.07,179.71 643.21,179.66 644.34,179.61 645.48,179.57 646.61,179.52 647.75,179.48 648.88,179.43 650.02,179.39 651.16,179.35 652.29,179.30 653.43,179.26 654.56,179.22 655.70,179.18 656.83,179.14 657.97,179.10 659.10,179.06 660.24,179.03 661.37,178.99 662.51,178.95 663.64,178.92 664.78,178.88 665.91,178.85 667.05,178.81 668.18,178.78 669.32,178.75 670.45,178.72 671.59,178.69 672.72,178.65 673.86,178.62 674.99,178.59 676.13,178.56 677.26,178.54 678.40,178.51" fill="none" stroke="#0000FF" stroke-width="2.1"/>
<polyline points="394.60,255.10 395.74,256.18 396.87,257.05 398.01,257.74 399.14,258.28 400.28,258.68 401.41,258.97 402.55,259.16 403.68,259.25 404.82,259.27 405.95,259.21 407.09,259.10 408.22,258.92 409.36,258.70 410.49,258.43 411.63,258.11 412.76,257.76 413.90,257.37 415.03,256.94 416.17,256.49 417.30,256.01 418.44,255.50 419.57,254.97 420.71,254.41 421.84,253.84 422.98,253.25 424.12,252.64 425.25,252.01 426.39,251.38 427.52,250.72 428.66,250.06 429.79,249.39 430.93,248.71 432.06,248.03 433.20,247.34 434.33,246.64 435.47,245.94 436.60,245.24 437.74,244.54 438.87,243.84 440.01,243.14 441.14,242.44 442.28,241.74 443.41,241.05 444.55,240.36 445.68,239.68 446.82,239.00 447.95,238.32 449.09,237.66 450.22,237.00 451.36,236.34 452.50,235.70 453.63,235.06 454.77,234.43 455.90,233.81 457.04,233.19 458.17,232.59 459.31,231.99 460.44,231.41 461.58,230.83 462.71,230.26 463.85,229.71 464.98,229.16 466.12,228.62 467.25,228.08 468.39,227.56 469.52,227.05 470.66,226.54 471.79,226.05 472.93,225.56 474.06,225.08 475.20,224.61 476.33,224.15 477.47,223.70 478.60,223.25 479.74,222.81 480.88,222.38 482.01,221.96 483.15,221.54 484.28,221.14 485.42,220.73 486.55,220.34 487.69,219.95 488.82,219.57 489.96,219.19 491.09,218.82 492.23,218.46 493.36,218.10 494.50,217.74 495.63,217.40 496.77,217.05 497.90,216.71 499.04,216.38 500.17,216.05 501.31,215.73 502.44,215.41 503.58,215.09 504.71,214.78 505.85,214.48 506.98,214.17 508.12,213.87 509.26,213.58 510.39,213.29 511.53,213.00 512.66,212.71 513.80,212.43 514.93,212.15 516.07,211.88 517.20,211.61 518.34,211.34 519.47,211.07 520.61,210.81 521.74,210.54 522.88,210.29 524.01,210.03 525.15,209.78 526.28,209.53 527.42,209.28 528.55,209.03 529.69,208.79 530.82,208.55 531.96,208.31 533.09,208.07 534.23,207.84 535.36,207.60 536.50,207.37 537.64,207.15 538.77,206.92 539.91,206.70 541.04,206.47 542.18,206.25 543.31,206.04 544.45,205.82 545.58,205.61 546.72,205.39 547.85,205.18 548.99,204.98 550.12,204.77 551.26,204.57 552.39,204.36 553.53,204.16 554.66,203.96 555.80,203.77 556.93,203.57 558.07,203.38 559.20,203.19 560.34,203.00 561.47,202.81 562.61,202.62 563.74,202.44 564.88,202.25 566.02,202.07 567.15,201.89 568.29,201.72 569.42,201.54 570.56,201.37 571.69,201.19 572.83,201.02 573.96,200.85 575.10,200.69 576.23,200.52 577.37,200.36 578.50,200.20 579.64,200.04 580.77,199.88 581.91,199.72 583.04,199.56 584.18,199.41 585.31,199.26 586.45,199.11 587.58,198.96 588.72,198.81 589.85,198.67 590.99,198.52 592.12,198.38 593.26,198.24 594.40,198.10 595.53,197.96 596.67,197.82 597.80,197.69 598.94,197.56 600.07,197.43 601.21,197.30 602.34,197.17 603.48,197.04 604.61,196.91 605.75,196.79 606.88,196.67 608.02,196.55 609.15,196.43 610.29,196.31 611.42,196.19 612.56,196.08 613.69,195.96 614.83,195.85 615.96,195.74 617.10,195.63 618.23,195.52 619.37,195.41 620.50,195.31 621.64,195.21 622.78,195.10 623.91,195.00 625.05,194.90 626.18,194.80 627.32,194.70 628.45,194.61 629.59,194.51 630.72,194.42 631.86,194.33 632.99,194.23 634.13,194.14 635.26,194.05 636.40,193.97 637.53,193.88 638.67,193.79 639.80,193.71 640.94,193.63 642.07,193.55 643.21,193.46 644.34,193.38 645.48,193.31 646.61,193.23 647.75,193.15 648.88,193.08 650.02,193.00 651.16,192.93 652.29,192.86 653.43,192.78 654.56,192.71 655.70,192.64 656.83,192.58 657.97,192.51 659.10,192.44 660.24,192.38 661.37,192.31 662.51,192.25 663.64,192.19 664.78,192.12 665.91,192.06 667.05,192.00 668.18,191.94 669.32,191.89 670.45,191.83 671.59,191.77 672.72,191.72 673.86,191.66 674.99,191.61 676.13,191.55 677.26,191.50 678.40,191.45" fill="none" stroke="#77AC30" stroke-width="1.6"/>
<path d="M393.10,253.00l3,4.2M393.10,257.20l3,-4.2M398.78,256.58l3,4.2M398.78,260.78l3,-4.2M404.45,257.11l3,4.2M404.45,261.31l3,-4.2M410.13,256.01l3,4.2M410.13,260.21l3,-4.2M415.80,253.91l3,4.2M415.80,258.11l3,-4.2M421.48,251.15l3,4.2M421.48,255.35l3,-4.2M427.16,247.96l3,4.2M427.16,252.16l3,-4.2M432.83,244.54l3,4.2M432.83,248.74l3,-4.2M438.51,241.04l3,4.2M438.51,245.24l3,-4.2M444.18,237.58l3,4.2M444.18,241.78l3,-4.2M449.86,234.24l3,4.2M449.86,238.44l3,-4.2M455.54,231.09l3,4.2M455.54,235.29l3,-4.2M461.21,228.16l3,4.2M461.21,232.36l3,-4.2M466.89,225.46l3,4.2M466.89,229.66l3,-4.2M472.56,222.98l3,4.2M472.56,227.18l3,-4.2M478.24,220.71l3,4.2M478.24,224.91l3,-4.2M483.92,218.63l3,4.2M483.92,222.83l3,-4.2M489.59,216.72l3,4.2M489.59,220.92l3,-4.2M495.27,214.95l3,4.2M495.27,219.15l3,-4.2M500.94,213.31l3,4.2M500.94,217.51l3,-4.2M506.62,211.77l3,4.2M506.62,215.97l3,-4.2M512.30,210.33l3,4.2M512.30,214.53l3,-4.2M517.97,208.97l3,4.2M517.97,213.17l3,-4.2M523.65,207.68l3,4.2M523.65,211.88l3,-4.2M529.32,206.45l3,4.2M529.32,210.65l3,-4.2M535.00,205.27l3,4.2M535.00,209.47l3,-4.2M540.68,204.15l3,4.2M540.68,208.35l3,-4.2M546.35,203.08l3,4.2M546.35,207.28l3,-4.2M552.03,202.06l3,4.2M552.03,206.26l3,-4.2M557.70,201.09l3,4.2M557.70,205.29l3,-4.2M563.38,200.15l3,4.2M563.38,204.35l3,-4.2M569.06,199.27l3,4.2M569.06,203.47l3,-4.2M574.73,198.42l3,4.2M574.73,202.62l3,-4.2M580.41,197.62l3,4.2M580.41,201.82l3,-4.2M586.08,196.86l3,4.2M586.08,201.06l3,-4.2M591.76,196.14l3,4.2M591.76,200.34l3,-4.2M597.44,195.46l3,4.2M597.44,199.66l3,-4.2M603.11,194.81l3,4.2M603.11,199.01l3,-4.2M608.79,194.21l3,4.2M608.79,198.41l3,-4.2M614.46,193.64l3,4.2M614.46,197.84l3,-4.2M620.14,193.11l3,4.2M620.14,197.31l3,-4.2M625.82,192.60l3,4.2M625.82,196.80l3,-4.2M631.49,192.13l3,4.2M631.49,196.33l3,-4.2M637.17,191.69l3,4.2M637.17,195.89l3,-4.2M642.84,191.28l3,4.2M642.84,195.48l3,-4.2M648.52,190.90l3,4.2M648.52,195.10l3,-4.2M654.20,190.54l3,4.2M654.20,194.74l3,-4.2M659.87,190.21l3,4.2M659.87,194.41l3,-4.2M665.55,189.90l3,4.2M665.55,194.10l3,-4.2M671.22,189.62l3,4.2M671.22,193.82l3,-4.2M676.90,189.35l3,4.2M676.90,193.55l3,-4.2" stroke="#77AC30" stroke-width="1.25" fill="none"/>
<polyline points="394.60,231.80 395.74,233.58 396.87,235.10 398.01,236.38 399.14,237.46 400.28,238.38 401.41,239.14 402.55,239.78 403.68,240.30 404.82,240.73 405.95,241.08 407.09,241.35 408.22,241.56 409.36,241.70 410.49,241.80 411.63,241.86 412.76,241.87 413.90,241.85 415.03,241.80 416.17,241.71 417.30,241.61 418.44,241.47 419.57,241.32 420.71,241.15 421.84,240.96 422.98,240.76 424.12,240.54 425.25,240.31 426.39,240.06 427.52,239.81 428.66,239.55 429.79,239.28 430.93,239.01 432.06,238.73 433.20,238.44 434.33,238.15 435.47,237.86 436.60,237.56 437.74,237.26 438.87,236.96 440.01,236.66 441.14,236.36 442.28,236.06 443.41,235.76 444.55,235.47 445.68,235.17 446.82,234.88 447.95,234.59 449.09,234.30 450.22,234.01 451.36,233.73 452.50,233.45 453.63,233.18 454.77,232.91 455.90,232.64 457.04,232.37 458.17,232.11 459.31,231.86 460.44,231.61 461.58,231.36 462.71,231.11 463.85,230.87 464.98,230.64 466.12,230.40 467.25,230.17 468.39,229.95 469.52,229.73 470.66,229.51 471.79,229.30 472.93,229.08 474.06,228.88 475.20,228.67 476.33,228.47 477.47,228.27 478.60,228.07 479.74,227.88 480.88,227.69 482.01,227.50 483.15,227.31 484.28,227.13 485.42,226.94 486.55,226.76 487.69,226.58 488.82,226.41 489.96,226.23 491.09,226.06 492.23,225.88 493.36,225.71 494.50,225.54 495.63,225.37 496.77,225.20 497.90,225.04 499.04,224.87 500.17,224.70 501.31,224.54 502.44,224.38 503.58,224.21 504.71,224.05 505.85,223.89 506.98,223.72 508.12,223.56 509.26,223.40 510.39,223.24 511.53,223.08 512.66,222.92 513.80,222.76 514.93,222.60 516.07,222.44 517.20,222.28 518.34,222.12 519.47,221.96 520.61,221.80 521.74,221.64 522.88,221.48 524.01,221.32 525.15,221.16 526.28,221.01 527.42,220.85 528.55,220.69 529.69,220.53 530.82,220.37 531.96,220.22 533.09,220.06 534.23,219.90 535.36,219.74 536.50,219.59 537.64,219.43 538.77,219.27 539.91,219.12 541.04,218.96 542.18,218.81 543.31,218.65 544.45,218.50 545.58,218.35 546.72,218.19 547.85,218.04 548.99,217.89 550.12,217.74 551.26,217.58 552.39,217.43 553.53,217.28 554.66,217.13 555.80,216.98 556.93,216.84 558.07,216.69 559.20,216.54 560.34,216.40 561.47,216.25 562.61,216.10 563.74,215.96 564.88,215.82 566.02,215.67 567.15,215.53 568.29,215.39 569.42,215.25 570.56,215.11 571.69,214.97 572.83,214.84 573.96,214.70 575.10,214.57 576.23,214.43 577.37,214.30 578.50,214.16 579.64,214.03 580.77,213.90 581.91,213.77 583.04,213.64 584.18,213.52 585.31,213.39 586.45,213.26 587.58,213.14 588.72,213.02 589.85,212.89 590.99,212.77 592.12,212.65 593.26,212.53 594.40,212.41 595.53,212.30 596.67,212.18 597.80,212.07 598.94,211.95 600.07,211.84 601.21,211.73 602.34,211.62 603.48,211.51 604.61,211.40 605.75,211.29 606.88,211.19 608.02,211.08 609.15,210.98 610.29,210.88 611.42,210.77 612.56,210.67 613.69,210.57 614.83,210.48 615.96,210.38 617.10,210.28 618.23,210.19 619.37,210.09 620.50,210.00 621.64,209.91 622.78,209.82 623.91,209.73 625.05,209.64 626.18,209.55 627.32,209.46 628.45,209.38 629.59,209.29 630.72,209.21 631.86,209.13 632.99,209.05 634.13,208.97 635.26,208.89 636.40,208.81 637.53,208.73 638.67,208.65 639.80,208.58 640.94,208.50 642.07,208.43 643.21,208.36 644.34,208.29 645.48,208.21 646.61,208.14 647.75,208.08 648.88,208.01 650.02,207.94 651.16,207.87 652.29,207.81 653.43,207.74 654.56,207.68 655.70,207.62 656.83,207.55 657.97,207.49 659.10,207.43 660.24,207.37 661.37,207.32 662.51,207.26 663.64,207.20 664.78,207.14 665.91,207.09 667.05,207.03 668.18,206.98 669.32,206.93 670.45,206.87 671.59,206.82 672.72,206.77 673.86,206.72 674.99,206.67 676.13,206.62 677.26,206.57 678.40,206.53" fill="none" stroke="#FF0000" stroke-width="2.4" stroke-dasharray="8.3,2.4,4.4,2.4"/>
<polyline points="394.60,217.70 395.74,219.56 396.87,221.27 398.01,222.84 399.14,224.26 400.28,225.57 401.41,226.75 402.55,227.83 403.68,228.81 404.82,229.69 405.95,230.49 407.09,231.20 408.22,231.84 409.36,232.40 410.49,232.91 411.63,233.35 412.76,233.73 413.90,234.06 415.03,234.34 416.17,234.58 417.30,234.78 418.44,234.94 419.57,235.06 420.71,235.15 421.84,235.21 422.98,235.25 424.12,235.25 425.25,235.24 426.39,235.21 427.52,235.16 428.66,235.09 429.79,235.01 430.93,234.91 432.06,234.81 433.20,234.69 434.33,234.57 435.47,234.43 436.60,234.30 437.74,234.15 438.87,234.00 440.01,233.85 441.14,233.70 442.28,233.54 443.41,233.38 444.55,233.22 445.68,233.06 446.82,232.90 447.95,232.74 449.09,232.59 450.22,232.43 451.36,232.27 452.50,232.12 453.63,231.97 454.77,231.82 455.90,231.67 457.04,231.52 458.17,231.38 459.31,231.24 460.44,231.10 461.58,230.96 462.71,230.83 463.85,230.70 464.98,230.57 466.12,230.44 467.25,230.32 468.39,230.19 469.52,230.07 470.66,229.96 471.79,229.84 472.93,229.73 474.06,229.61 475.20,229.50 476.33,229.39 477.47,229.29 478.60,229.18 479.74,229.08 480.88,228.97 482.01,228.87 483.15,228.77 484.28,228.67 485.42,228.57 486.55,228.47 487.69,228.37 488.82,228.27 489.96,228.18 491.09,228.08 492.23,227.99 493.36,227.89 494.50,227.80 495.63,227.70 496.77,227.61 497.90,227.51 499.04,227.42 500.17,227.32 501.31,227.23 502.44,227.13 503.58,227.04 504.71,226.94 505.85,226.85 506.98,226.76 508.12,226.66 509.26,226.57 510.39,226.47 511.53,226.37 512.66,226.28 513.80,226.18 514.93,226.09 516.07,225.99 517.20,225.89 518.34,225.80 519.47,225.70 520.61,225.60 521.74,225.50 522.88,225.40 524.01,225.31 525.15,225.21 526.28,225.11 527.42,225.01 528.55,224.91 529.69,224.81 530.82,224.71 531.96,224.61 533.09,224.51 534.23,224.42 535.36,224.32 536.50,224.22 537.64,224.12 538.77,224.02 539.91,223.92 541.04,223.82 542.18,223.72 543.31,223.62 544.45,223.52 545.58,223.42 546.72,223.32 547.85,223.22 548.99,223.12 550.12,223.02 551.26,222.93 552.39,222.83 553.53,222.73 554.66,222.63 555.80,222.53 556.93,222.44 558.07,222.34 559.20,222.24 560.34,222.15 561.47,222.05 562.61,221.96 563.74,221.86 564.88,221.77 566.02,221.67 567.15,221.58 568.29,221.49 569.42,221.40 570.56,221.30 571.69,221.21 572.83,221.12 573.96,221.03 575.10,220.94 576.23,220.85 577.37,220.76 578.50,220.68 579.64,220.59 580.77,220.50 581.91,220.42 583.04,220.33 584.18,220.25 585.31,220.16 586.45,220.08 587.58,219.99 588.72,219.91 589.85,219.83 590.99,219.75 592.12,219.67 593.26,219.59 594.40,219.51 595.53,219.43 596.67,219.36 597.80,219.28 598.94,219.20 600.07,219.13 601.21,219.05 602.34,218.98 603.48,218.91 604.61,218.84 605.75,218.76 606.88,218.69 608.02,218.62 609.15,218.55 610.29,218.49 611.42,218.42 612.56,218.35 613.69,218.28 614.83,218.22 615.96,218.15 617.10,218.09 618.23,218.03 619.37,217.96 620.50,217.90 621.64,217.84 622.78,217.78 623.91,217.72 625.05,217.66 626.18,217.60 627.32,217.54 628.45,217.48 629.59,217.43 630.72,217.37 631.86,217.32 632.99,217.26 634.13,217.21 635.26,217.16 636.40,217.10 637.53,217.05 638.67,217.00 639.80,216.95 640.94,216.90 642.07,216.85 643.21,216.80 644.34,216.75 645.48,216.71 646.61,216.66 647.75,216.61 648.88,216.57 650.02,216.52 651.16,216.48 652.29,216.43 653.43,216.39 654.56,216.35 655.70,216.31 656.83,216.26 657.97,216.22 659.10,216.18 660.24,216.14 661.37,216.10 662.51,216.06 663.64,216.03 664.78,215.99 665.91,215.95 667.05,215.92 668.18,215.88 669.32,215.84 670.45,215.81 671.59,215.77 672.72,215.74 673.86,215.71 674.99,215.67 676.13,215.64 677.26,215.61 678.40,215.58" fill="none" stroke="#000000" stroke-width="1.5" stroke-dasharray="5,5.5"/>
<text x="63.3" y="23.6" class="pl">(a)</text>
<text x="398.6" y="23.9" class="pl">(b)</text>
<text x="64.4" y="188" class="pl">(c)</text>
<text x="399.2" y="188.7" class="pl">(d)</text>
<text transform="translate(13.3,85.0) rotate(-90)" class="al">Q<tspan font-size="13" dy="7.5">L</tspan></text>
<text transform="translate(14.6,249.0) rotate(-90)" class="al">Q<tspan font-size="13" dy="7.8">R</tspan></text>
<text x="201.5" y="342.5" text-anchor="middle" class="xl">Jt</text>
<text x="536.5" y="342.8" text-anchor="middle" class="xl">Jt</text>
<rect x="569.5" y="34.6" width="103.10000000000002" height="92.4" fill="#fff" stroke="#9a9a9a" stroke-width="0.9"/>
<line x1="581.6" y1="44.9" x2="603.8" y2="44.9" stroke="#EDB120" stroke-width="1.3"/><circle cx="592.7" cy="44.9" r="2.5" fill="none" stroke="#EDB120" stroke-width="1.35"/>
<text transform="translate(605.9,46.9) scale(1.2,1)" class="lg" style="font-weight:normal">&#916;</text>
<text x="617.9" y="46.9" class="lg">T = -2T<tspan font-size="8.5" dy="4.6">M</tspan></text>
<line x1="581.6" y1="63.8" x2="603.8" y2="63.8" stroke="#0000FF" stroke-width="2.1"/>
<text transform="translate(605.9,65.8) scale(1.2,1)" class="lg" style="font-weight:normal">&#916;</text>
<text x="617.9" y="65.8" class="lg">T = -T<tspan font-size="8.5" dy="4.6">M</tspan></text>
<line x1="581.6" y1="81.1" x2="603.8" y2="81.1" stroke="#77AC30" stroke-width="1.5"/><path d="M591.2,79.0l3,4.2M591.2,83.19999999999999l3,-4.2" stroke="#77AC30" stroke-width="1.0"/>
<text transform="translate(605.9,85.4) scale(1.2,1)" class="lg" style="font-weight:normal">&#916;</text>
<text x="617.9" y="85.4" class="lg">T = 0</text>
<line x1="581.6" y1="97.7" x2="603.8" y2="97.7" stroke="#FF0000" stroke-width="2.4" stroke-dasharray="8.3,2.4,4.4,2.4"/>
<text transform="translate(605.9,99.7) scale(1.2,1)" class="lg" style="font-weight:normal">&#916;</text>
<text x="617.9" y="99.7" class="lg">T = T<tspan font-size="8.5" dy="4.6">M</tspan></text>
<line x1="581.6" y1="116.9" x2="603.8" y2="116.9" stroke="#000000" stroke-width="1.5" stroke-dasharray="5,5.5"/>
<text transform="translate(605.9,118.9) scale(1.2,1)" class="lg" style="font-weight:normal">&#916;</text>
<text x="617.9" y="118.9" class="lg">T = 2T<tspan font-size="8.5" dy="4.6">M</tspan></text>
</svg>
</body></html>
